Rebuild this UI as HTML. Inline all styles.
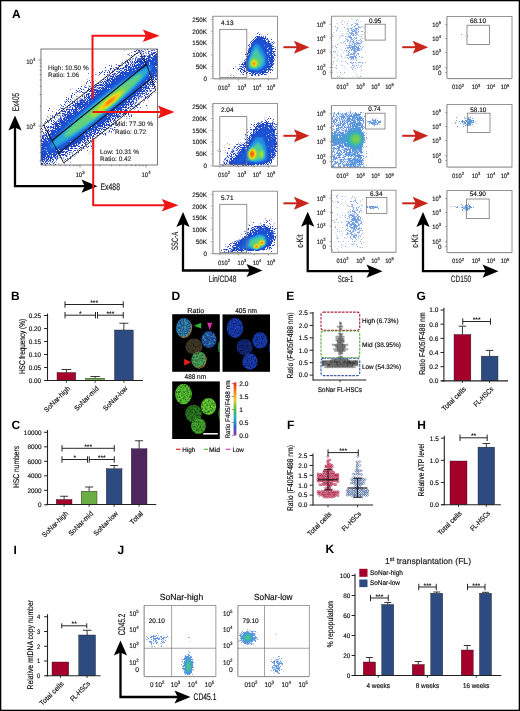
<!DOCTYPE html><html><head><meta charset="utf-8"><style>html,body{margin:0;padding:0;background:#fff;}svg{display:block;will-change:transform;}text{font-family:"Liberation Sans",sans-serif;text-rendering:geometricPrecision;}</style></head><body><svg width="520" height="711" viewBox="0 0 520 711" font-family="Liberation Sans, sans-serif"><defs><filter id="jet1" x="-20%" y="-20%" width="140%" height="140%" color-interpolation-filters="sRGB"><feGaussianBlur in="SourceGraphic" stdDeviation="1.2" result="bl"/><feColorMatrix in="bl" type="matrix" values="0 0 0 1 0 0 0 0 1 0 0 0 0 1 0 0 0 0 0 1" result="d"/><feComponentTransfer in="d" result="col"><feFuncR type="table" tableValues="0.16 0.14 0.12 0.11 0.14 0.3 0.55 0.88 1 1 0.96"/><feFuncG type="table" tableValues="0.26 0.25 0.26 0.34 0.62 0.8 0.85 0.88 0.66 0.36 0.1"/><feFuncB type="table" tableValues="0.76 0.76 0.77 0.84 0.9 0.6 0.28 0.12 0.06 0.03 0"/></feComponentTransfer><feTurbulence type="fractalNoise" baseFrequency="0.95" numOctaves="1" seed="2" result="n"/><feColorMatrix in="n" type="matrix" values="1 0 0 0 0 1 0 0 0 0 1 0 0 0 0 0 0 0 0 1" result="ng"/><feComposite in="d" in2="ng" operator="arithmetic" k1="0" k2="25" k3="12" k4="-9.84" result="m"/><feColorMatrix in="m" type="matrix" values="0 0 0 0 0 0 0 0 0 0 0 0 0 0 0 1 0 0 0 0" result="ma"/><feComposite in="col" in2="ma" operator="in"/></filter><filter id="jet2" x="-20%" y="-20%" width="140%" height="140%" color-interpolation-filters="sRGB"><feGaussianBlur in="SourceGraphic" stdDeviation="1.8" result="bl"/><feColorMatrix in="bl" type="matrix" values="0 0 0 1 0 0 0 0 1 0 0 0 0 1 0 0 0 0 0 1" result="d"/><feComponentTransfer in="d" result="col"><feFuncR type="table" tableValues="0.16 0.14 0.12 0.11 0.14 0.3 0.55 0.88 1 1 0.96"/><feFuncG type="table" tableValues="0.26 0.25 0.26 0.34 0.62 0.8 0.85 0.88 0.66 0.36 0.1"/><feFuncB type="table" tableValues="0.76 0.76 0.77 0.84 0.9 0.6 0.28 0.12 0.06 0.03 0"/></feComponentTransfer><feTurbulence type="fractalNoise" baseFrequency="0.95" numOctaves="1" seed="2" result="n"/><feColorMatrix in="n" type="matrix" values="1 0 0 0 0 1 0 0 0 0 1 0 0 0 0 0 0 0 0 1" result="ng"/><feComposite in="d" in2="ng" operator="arithmetic" k1="0" k2="25" k3="12" k4="-9.84" result="m"/><feColorMatrix in="m" type="matrix" values="0 0 0 0 0 0 0 0 0 0 0 0 0 0 0 1 0 0 0 0" result="ma"/><feComposite in="col" in2="ma" operator="in"/></filter><filter id="jet3" x="-20%" y="-20%" width="140%" height="140%" color-interpolation-filters="sRGB"><feGaussianBlur in="SourceGraphic" stdDeviation="0.8" result="bl"/><feColorMatrix in="bl" type="matrix" values="0 0 0 1 0 0 0 0 1 0 0 0 0 1 0 0 0 0 0 1" result="d"/><feComponentTransfer in="d" result="col"><feFuncR type="table" tableValues="0.16 0.14 0.12 0.11 0.14 0.3 0.55 0.88 1 1 0.96"/><feFuncG type="table" tableValues="0.26 0.25 0.26 0.34 0.62 0.8 0.85 0.88 0.66 0.36 0.1"/><feFuncB type="table" tableValues="0.76 0.76 0.77 0.84 0.9 0.6 0.28 0.12 0.06 0.03 0"/></feComponentTransfer><feTurbulence type="fractalNoise" baseFrequency="0.95" numOctaves="1" seed="2" result="n"/><feColorMatrix in="n" type="matrix" values="1 0 0 0 0 1 0 0 0 0 1 0 0 0 0 0 0 0 0 1" result="ng"/><feComposite in="d" in2="ng" operator="arithmetic" k1="0" k2="25" k3="12" k4="-9.84" result="m"/><feColorMatrix in="m" type="matrix" values="0 0 0 0 0 0 0 0 0 0 0 0 0 0 0 1 0 0 0 0" result="ma"/><feComposite in="col" in2="ma" operator="in"/></filter><filter id="jetL" x="-20%" y="-20%" width="140%" height="140%" color-interpolation-filters="sRGB"><feGaussianBlur in="SourceGraphic" stdDeviation="2.2" result="bl"/><feColorMatrix in="bl" type="matrix" values="0 0 0 1 0 0 0 0 1 0 0 0 0 1 0 0 0 0 0 1" result="d"/><feComponentTransfer in="d" result="col"><feFuncR type="table" tableValues="0.5 0.46 0.38 0.28 0.22 0.35 0.5 0.8 1 1 0.98"/><feFuncG type="table" tableValues="0.64 0.62 0.58 0.62 0.7 0.78 0.82 0.88 0.7 0.4 0.12"/><feFuncB type="table" tableValues="0.9 0.9 0.88 0.84 0.72 0.45 0.3 0.15 0.08 0.04 0"/></feComponentTransfer><feTurbulence type="fractalNoise" baseFrequency="1.8" numOctaves="1" seed="5" result="n"/><feColorMatrix in="n" type="matrix" values="1 0 0 0 0 1 0 0 0 0 1 0 0 0 0 0 0 0 0 1" result="ng"/><feComposite in="d" in2="ng" operator="arithmetic" k1="0" k2="25" k3="12" k4="-9.84" result="m"/><feColorMatrix in="m" type="matrix" values="0 0 0 0 0 0 0 0 0 0 0 0 0 0 0 1 0 0 0 0" result="ma"/><feComposite in="col" in2="ma" operator="in"/></filter><filter id="jetL2" x="-20%" y="-20%" width="140%" height="140%" color-interpolation-filters="sRGB"><feGaussianBlur in="SourceGraphic" stdDeviation="1.0" result="bl"/><feColorMatrix in="bl" type="matrix" values="0 0 0 1 0 0 0 0 1 0 0 0 0 1 0 0 0 0 0 1" result="d"/><feComponentTransfer in="d" result="col"><feFuncR type="table" tableValues="0.5 0.46 0.38 0.28 0.22 0.35 0.5 0.8 1 1 0.98"/><feFuncG type="table" tableValues="0.64 0.62 0.58 0.62 0.7 0.78 0.82 0.88 0.7 0.4 0.12"/><feFuncB type="table" tableValues="0.9 0.9 0.88 0.84 0.72 0.45 0.3 0.15 0.08 0.04 0"/></feComponentTransfer><feTurbulence type="fractalNoise" baseFrequency="1.3" numOctaves="1" seed="6" result="n"/><feColorMatrix in="n" type="matrix" values="1 0 0 0 0 1 0 0 0 0 1 0 0 0 0 0 0 0 0 1" result="ng"/><feComposite in="d" in2="ng" operator="arithmetic" k1="0" k2="25" k3="12" k4="-9.84" result="m"/><feColorMatrix in="m" type="matrix" values="0 0 0 0 0 0 0 0 0 0 0 0 0 0 0 1 0 0 0 0" result="ma"/><feComposite in="col" in2="ma" operator="in"/></filter><filter id="jetLL" x="-20%" y="-20%" width="140%" height="140%" color-interpolation-filters="sRGB"><feGaussianBlur in="SourceGraphic" stdDeviation="2.2" result="bl"/><feColorMatrix in="bl" type="matrix" values="0 0 0 1 0 0 0 0 1 0 0 0 0 1 0 0 0 0 0 1" result="d"/><feComponentTransfer in="d" result="col"><feFuncR type="table" tableValues="0.58 0.55 0.45 0.32 0.25 0.35 0.5 0.8 1 1 0.98"/><feFuncG type="table" tableValues="0.7 0.68 0.62 0.62 0.68 0.76 0.82 0.88 0.7 0.4 0.12"/><feFuncB type="table" tableValues="0.92 0.92 0.88 0.82 0.7 0.45 0.3 0.15 0.08 0.04 0"/></feComponentTransfer><feTurbulence type="fractalNoise" baseFrequency="1.8" numOctaves="1" seed="8" result="n"/><feColorMatrix in="n" type="matrix" values="1 0 0 0 0 1 0 0 0 0 1 0 0 0 0 0 0 0 0 1" result="ng"/><feComposite in="d" in2="ng" operator="arithmetic" k1="0" k2="25" k3="12" k4="-9.84" result="m"/><feColorMatrix in="m" type="matrix" values="0 0 0 0 0 0 0 0 0 0 0 0 0 0 0 1 0 0 0 0" result="ma"/><feComposite in="col" in2="ma" operator="in"/></filter><clipPath id="c1"><rect x="41" y="49" width="116.5" height="116"/></clipPath><clipPath id="c2"><rect x="213" y="16.25" width="64.5" height="62.5"/></clipPath><clipPath id="c3"><rect x="213" y="103.5" width="64.5" height="62.5"/></clipPath><clipPath id="c4"><rect x="213" y="191.2" width="64.5" height="62.5"/></clipPath><clipPath id="c5"><rect x="331.5" y="16.2" width="64.5" height="62"/></clipPath><clipPath id="c6"><rect x="331.5" y="105.6" width="64.5" height="62"/></clipPath><clipPath id="c7"><rect x="331.5" y="105.6" width="64.5" height="62"/></clipPath><clipPath id="c8"><rect x="331.5" y="190.2" width="64.5" height="62"/></clipPath><clipPath id="c9"><rect x="331.5" y="190.2" width="64.5" height="62"/></clipPath><clipPath id="c10"><rect x="447" y="16.5" width="65" height="62"/></clipPath><clipPath id="c11"><rect x="447" y="104.5" width="65" height="62.5"/></clipPath><clipPath id="c12"><rect x="447" y="190.5" width="65" height="62"/></clipPath><filter id="cellg" x="-10%" y="-10%" width="120%" height="120%" color-interpolation-filters="sRGB"><feGaussianBlur in="SourceGraphic" stdDeviation="0.55" result="b"/><feTurbulence type="fractalNoise" baseFrequency="0.6" numOctaves="2" seed="9" result="n"/><feColorMatrix in="n" type="matrix" values="0 0 0 0 1 0 0 0 0 1 0 0 0 0 1 1.3 0 0 0 0.2" result="nm"/><feComposite in="b" in2="nm" operator="in"/></filter><filter id="mott" x="-10%" y="-10%" width="120%" height="120%" color-interpolation-filters="sRGB"><feTurbulence type="fractalNoise" baseFrequency="0.45" numOctaves="2" seed="4" result="n"/><feColorMatrix in="n" type="matrix" values="0 0 0 0 0.3 0 0 0 0 0.78 0 0 0 0 0.55 4 0 0 0 -1.9" result="nm"/><feComposite in="nm" in2="SourceGraphic" operator="in"/></filter><clipPath id="dimg1"><rect x="172.2" y="314.2" width="47.6" height="57.6"/></clipPath><clipPath id="dimg2"><rect x="222.5" y="314.4" width="47.5" height="57.4"/></clipPath><clipPath id="dimg3"><rect x="172.2" y="381.4" width="47.6" height="57.6"/></clipPath><radialGradient id="rimA" cx="0.42" cy="0.42" r="0.62"><stop offset="0.72" stop-color="#2f8fb0" stop-opacity="0"/><stop offset="0.9" stop-color="#d09020"/><stop offset="1" stop-color="#c02010"/></radialGradient><radialGradient id="rimD" cx="0.45" cy="0.45" r="0.62"><stop offset="0.7" stop-color="#70b030" stop-opacity="0"/><stop offset="0.88" stop-color="#d06020"/><stop offset="1" stop-color="#b01810"/></radialGradient><linearGradient id="cbar" x1="0" y1="0" x2="0" y2="1"><stop offset="0" stop-color="#e8201a"/><stop offset="0.18" stop-color="#f08a20"/><stop offset="0.33" stop-color="#e8d020"/><stop offset="0.5" stop-color="#50c040"/><stop offset="0.68" stop-color="#20b0c8"/><stop offset="0.84" stop-color="#3060c8"/><stop offset="1" stop-color="#a030a0"/></linearGradient><clipPath id="c13"><rect x="144.2" y="605.5" width="71.7" height="71"/></clipPath><clipPath id="c14"><rect x="144.2" y="605.5" width="71.7" height="71"/></clipPath><clipPath id="c15"><rect x="144.2" y="605.5" width="71.7" height="71"/></clipPath><clipPath id="c16"><rect x="238" y="605.5" width="71.25" height="71"/></clipPath><clipPath id="c17"><rect x="238" y="605.5" width="71.25" height="71"/></clipPath><clipPath id="c18"><rect x="238" y="605.5" width="71.25" height="71"/></clipPath></defs><rect width="520" height="711" fill="#fff"/><text x="12" y="18.1" font-size="12" fill="#000" font-weight="bold">A</text><g clip-path="url(#c1)"><g filter="url(#jet2)"><ellipse cx="99" cy="107" rx="108" ry="36" fill="#fff" fill-opacity="0.05" transform="rotate(-38.8 99 107)"/><ellipse cx="99" cy="107" rx="100" ry="28" fill="#fff" fill-opacity="0.08" transform="rotate(-38.8 99 107)"/><ellipse cx="100" cy="107.5" rx="90" ry="20" fill="#fff" fill-opacity="0.08" transform="rotate(-38.8 100 107.5)"/><ellipse cx="100" cy="107.5" rx="80" ry="14.5" fill="#fff" fill-opacity="0.08" transform="rotate(-38.8 100 107.5)"/><ellipse cx="100" cy="108" rx="70" ry="10" fill="#fff" fill-opacity="0.08" transform="rotate(-38.8 100 108)"/><ellipse cx="101" cy="107" rx="64" ry="7" fill="#fff" fill-opacity="0.17" transform="rotate(-38.8 101 107)"/><ellipse cx="103" cy="105.5" rx="50" ry="5.2" fill="#fff" fill-opacity="0.2" transform="rotate(-38.8 103 105.5)"/><ellipse cx="108" cy="103" rx="22" ry="4" fill="#fff" fill-opacity="0.25" transform="rotate(-38.8 108 103)"/><ellipse cx="110" cy="101.5" rx="13" ry="3" fill="#fff" fill-opacity="0.33" transform="rotate(-38.8 110 101.5)"/><ellipse cx="110" cy="101.5" rx="6" ry="2" fill="#fff" fill-opacity="0.5" transform="rotate(-38.8 110 101.5)"/></g></g><rect x="41" y="49" width="116.5" height="116" fill="none" stroke="#555" stroke-width="0.8"/><path d="M41,160.51h-1.3M41,152.26h-1.3M41,145.87h-1.3M41,140.64h-1.3M41,136.22h-1.3M41,132.4h-1.3M41,129.02h-1.3M41,126h-2.5M41,106.13h-1.3M41,94.51h-1.3M41,86.26h-1.3M41,79.87h-1.3M41,74.64h-1.3M41,70.22h-1.3M41,66.4h-1.3M41,63.02h-1.3M41,60h-2.5" stroke="#444" stroke-width="0.6" fill="none"/><path d="M45.49,165v1.3M53.74,165v1.3M60.13,165v1.3M65.36,165v1.3M69.78,165v1.3M73.6,165v1.3M76.98,165v1.3M80,165v2.5M99.87,165v1.3M111.49,165v1.3M119.74,165v1.3M126.13,165v1.3M131.36,165v1.3M135.78,165v1.3M139.6,165v1.3M142.98,165v1.3M146,165v2.5" stroke="#444" stroke-width="0.6" fill="none"/><text transform="translate(35.3,63.6) scale(0.92,1)" font-size="6.6" fill="#1a1a1a" stroke="#1a1a1a" stroke-width="0.16" text-anchor="end">10<tspan dy="-2.77" font-size="4.62">4</tspan></text><text transform="translate(35.3,128.6) scale(0.92,1)" font-size="6.6" fill="#1a1a1a" stroke="#1a1a1a" stroke-width="0.16" text-anchor="end">10<tspan dy="-2.77" font-size="4.62">3</tspan></text><text transform="translate(80,176.8) scale(0.92,1)" font-size="6.6" fill="#1a1a1a" stroke="#1a1a1a" stroke-width="0.16" text-anchor="middle">10<tspan dy="-2.77" font-size="4.62">3</tspan></text><text transform="translate(146,176.8) scale(0.92,1)" font-size="6.6" fill="#1a1a1a" stroke="#1a1a1a" stroke-width="0.16" text-anchor="middle">10<tspan dy="-2.77" font-size="4.62">4</tspan></text><polygon points="43.5,124.8 139.4,51.35 146.5,64.25 155.7,90.3 63.8,162.9" fill="none" stroke="#111" stroke-width="0.9"/><line x1="51.9" y1="140.7" x2="146.5" y2="64.25" stroke="#111" stroke-width="1.1"/><line x1="58.1" y1="153.4" x2="151.25" y2="78.6" stroke="#111" stroke-width="1.1"/><text x="48.1" y="69.6" font-size="6.4" fill="#333" stroke="#333" stroke-width="0.16" textLength="40.6" lengthAdjust="spacingAndGlyphs">High: 10.50 %</text><text x="48.1" y="77" font-size="6.4" fill="#333" stroke="#333" stroke-width="0.16" textLength="31" lengthAdjust="spacingAndGlyphs">Ratio: 1.06</text><text x="115" y="125.6" font-size="6.4" fill="#333" stroke="#333" stroke-width="0.16" textLength="38" lengthAdjust="spacingAndGlyphs">Mid: 77.30 %</text><text x="115" y="133.5" font-size="6.4" fill="#333" stroke="#333" stroke-width="0.16" textLength="31.2" lengthAdjust="spacingAndGlyphs">Ratio: 0.72</text><text x="100" y="153.5" font-size="6.4" fill="#333" stroke="#333" stroke-width="0.16" textLength="39" lengthAdjust="spacingAndGlyphs">Low: 10.31 %</text><text x="100" y="161.3" font-size="6.4" fill="#333" stroke="#333" stroke-width="0.16" textLength="31.2" lengthAdjust="spacingAndGlyphs">Ratio: 0.42</text><path d="M15,126.5 L15,186.2 L86.5,186.2" fill="none" stroke="#000" stroke-width="2.3"/><polygon points="15,115.5 21.6,130.5 15,127.5 8.4,130.5" fill="#000"/><polygon points="97.5,186.2 81.5,179.6 84.7,186.2 81.5,192.8" fill="#000"/><text x="18.5" y="102" font-size="9.6" fill="#1a1a1a" text-anchor="middle" stroke="#1a1a1a" stroke-width="0.16" textLength="18.5" lengthAdjust="spacingAndGlyphs" transform="rotate(-90 18.5 102)">Ex405</text><text x="100.5" y="189.5" font-size="9.6" fill="#1a1a1a" stroke="#1a1a1a" stroke-width="0.16" textLength="19.5" lengthAdjust="spacingAndGlyphs">Ex488</text><path d="M92.5,98.5 V35.7 H146" fill="none" stroke="#f01414" stroke-width="2"/><polygon points="159.6,35.7 142.8,29.4 146,35.7 142.8,42" fill="#f01414"/><path d="M92.5,112 H161" fill="none" stroke="#f01414" stroke-width="2"/><polygon points="174.5,112 157.8,105.6 161,112 157.8,118.4" fill="#f01414"/><path d="M93.2,138.7 V205.2 H165" fill="none" stroke="#f01414" stroke-width="2"/><polygon points="178.5,205.2 161.8,198.9 165,205.2 161.8,211.5" fill="#f01414"/><g clip-path="url(#c2)"><g filter="url(#jet1)"><ellipse cx="238" cy="70" rx="14" ry="8" fill="#fff" fill-opacity="0.08" transform="rotate(-20 238 70)"/><polygon points="256,31 268,33 277,43 279,60 277,72 266,79 250,79 239,73 241,58 248,42" fill="#fff" fill-opacity="0.1"/><polygon points="257,35 266,37 273,45 275,58 273,68 265,75 252,75 246,69 246,58 250,45" fill="#fff" fill-opacity="0.13"/><polygon points="257,38 265,41 271,48 272,60 269,69 262,73 252,73 248,67 248,57 251,46" fill="#fff" fill-opacity="0.08"/><polygon points="255,43 260,45 266,56 266,65 259,71 249,70 248,62 251,50" fill="#fff" fill-opacity="0.14"/><polygon points="256.5,47 259,52 264,60 262,66 255,69 249,67 249,60 253,52" fill="#fff" fill-opacity="0.19"/><ellipse cx="254.5" cy="63.2" rx="4" ry="4.6" fill="#fff" fill-opacity="0.24"/><ellipse cx="254" cy="63.5" rx="2.6" ry="3" fill="#fff" fill-opacity="0.37"/><ellipse cx="254" cy="63.6" rx="1.3" ry="1.6" fill="#fff" fill-opacity="0.58"/></g></g><rect x="213" y="16.25" width="64.5" height="62.5" fill="none" stroke="#8a8a8a" stroke-width="0.9"/><path d="M213,78.45h-2.2M213,76.09h-1M213,73.73h-1M213,71.37h-1M213,69.01h-1M213,66.65h-2.2M213,64.29h-1M213,61.93h-1M213,59.57h-1M213,57.21h-1M213,54.85h-2.2M213,52.49h-1M213,50.13h-1M213,47.77h-1M213,45.41h-1M213,43.05h-2.2M213,40.69h-1M213,38.33h-1M213,35.97h-1M213,33.61h-1M213,31.25h-2.2M213,28.89h-1M213,26.53h-1M213,24.17h-1M213,21.81h-1M213,19.45h-2.2M213,17.09h-1" stroke="#666" stroke-width="0.5"/><text x="206.9" y="80.75" font-size="6.3" fill="#1a1a1a" text-anchor="end" stroke="#1a1a1a" stroke-width="0.16">0</text><text x="206.9" y="68.95" font-size="6.3" fill="#1a1a1a" text-anchor="end" stroke="#1a1a1a" stroke-width="0.16">50K</text><text x="206.9" y="57.15" font-size="6.3" fill="#1a1a1a" text-anchor="end" stroke="#1a1a1a" stroke-width="0.16">100K</text><text x="206.9" y="45.35" font-size="6.3" fill="#1a1a1a" text-anchor="end" stroke="#1a1a1a" stroke-width="0.16">150K</text><text x="206.9" y="33.55" font-size="6.3" fill="#1a1a1a" text-anchor="end" stroke="#1a1a1a" stroke-width="0.16">200K</text><text x="206.9" y="21.75" font-size="6.3" fill="#1a1a1a" text-anchor="end" stroke="#1a1a1a" stroke-width="0.16">250K</text><text transform="translate(224,89.55) scale(0.92,1)" font-size="6.3" fill="#1a1a1a" stroke="#1a1a1a" stroke-width="0.16" text-anchor="middle">010<tspan dy="-2.65" font-size="4.41">2</tspan></text><text transform="translate(241.8,89.55) scale(0.92,1)" font-size="6.3" fill="#1a1a1a" stroke="#1a1a1a" stroke-width="0.16" text-anchor="middle">10<tspan dy="-2.65" font-size="4.41">3</tspan></text><text transform="translate(257,89.55) scale(0.92,1)" font-size="6.3" fill="#1a1a1a" stroke="#1a1a1a" stroke-width="0.16" text-anchor="middle">10<tspan dy="-2.65" font-size="4.41">4</tspan></text><text transform="translate(271,89.55) scale(0.92,1)" font-size="6.3" fill="#1a1a1a" stroke="#1a1a1a" stroke-width="0.16" text-anchor="middle">10<tspan dy="-2.65" font-size="4.41">5</tspan></text><path d="M220,78.75v1.8M238.5,78.75v1.8M254,78.75v1.8M268.5,78.75v1.8M215,78.75v0.9M217,78.75v0.9M219,78.75v0.9M221,78.75v0.9M223,78.75v0.9M225,78.75v0.9M227,78.75v0.9M229,78.75v0.9M231,78.75v0.9M233,78.75v0.9M235,78.75v0.9M237,78.75v0.9M239,78.75v0.9M241,78.75v0.9M243,78.75v0.9M245,78.75v0.9M247,78.75v0.9M249,78.75v0.9M251,78.75v0.9M253,78.75v0.9M255,78.75v0.9M257,78.75v0.9M259,78.75v0.9M261,78.75v0.9M263,78.75v0.9M265,78.75v0.9M267,78.75v0.9M269,78.75v0.9M271,78.75v0.9M273,78.75v0.9M275,78.75v0.9" stroke="#666" stroke-width="0.5"/><rect x="219.8" y="29.35" width="27" height="48.2" fill="none" stroke="#777" stroke-width="0.8"/><text x="221" y="24.75" font-size="6.6" stroke="#222" stroke-width="0.16" textLength="12.5" lengthAdjust="spacingAndGlyphs">4.13</text><g clip-path="url(#c3)"><g filter="url(#jet1)"><ellipse cx="230" cy="152" rx="16" ry="13" fill="#fff" fill-opacity="0.07"/><polygon points="218,167 232,150 246,130 255,118 268,115 279,119 279,162 272,168 240,168" fill="#fff" fill-opacity="0.1"/><polygon points="229,165 240,152 250,135 257,123 266,121 275,124 277,140 276,155 270,164 250,166" fill="#fff" fill-opacity="0.13"/><polygon points="236,164 245,152 252,138 258,127 266,125 273,128 275,142 274,155 268,163 252,165" fill="#fff" fill-opacity="0.08"/><polygon points="246,161 250,145 256,137 263,137 267,148 267,160 258,163" fill="#fff" fill-opacity="0.14"/><polygon points="249,159 252,148 257,142 262,145 264,152 263,159 256,161" fill="#fff" fill-opacity="0.19"/><ellipse cx="252.6" cy="154" rx="5" ry="6.5" fill="#fff" fill-opacity="0.24"/><ellipse cx="261.7" cy="154.5" rx="2.4" ry="4" fill="#fff" fill-opacity="0.3"/><ellipse cx="252" cy="154" rx="3.6" ry="4.8" fill="#fff" fill-opacity="0.42"/><ellipse cx="251.9" cy="154" rx="2.2" ry="3.2" fill="#fff" fill-opacity="0.64"/></g></g><rect x="213" y="103.5" width="64.5" height="62.5" fill="none" stroke="#8a8a8a" stroke-width="0.9"/><path d="M213,165.7h-2.2M213,163.34h-1M213,160.98h-1M213,158.62h-1M213,156.26h-1M213,153.9h-2.2M213,151.54h-1M213,149.18h-1M213,146.82h-1M213,144.46h-1M213,142.1h-2.2M213,139.74h-1M213,137.38h-1M213,135.02h-1M213,132.66h-1M213,130.3h-2.2M213,127.94h-1M213,125.58h-1M213,123.22h-1M213,120.86h-1M213,118.5h-2.2M213,116.14h-1M213,113.78h-1M213,111.42h-1M213,109.06h-1M213,106.7h-2.2M213,104.34h-1" stroke="#666" stroke-width="0.5"/><text x="206.9" y="168" font-size="6.3" fill="#1a1a1a" text-anchor="end" stroke="#1a1a1a" stroke-width="0.16">0</text><text x="206.9" y="156.2" font-size="6.3" fill="#1a1a1a" text-anchor="end" stroke="#1a1a1a" stroke-width="0.16">50K</text><text x="206.9" y="144.4" font-size="6.3" fill="#1a1a1a" text-anchor="end" stroke="#1a1a1a" stroke-width="0.16">100K</text><text x="206.9" y="132.6" font-size="6.3" fill="#1a1a1a" text-anchor="end" stroke="#1a1a1a" stroke-width="0.16">150K</text><text x="206.9" y="120.8" font-size="6.3" fill="#1a1a1a" text-anchor="end" stroke="#1a1a1a" stroke-width="0.16">200K</text><text x="206.9" y="109" font-size="6.3" fill="#1a1a1a" text-anchor="end" stroke="#1a1a1a" stroke-width="0.16">250K</text><text transform="translate(224,176.8) scale(0.92,1)" font-size="6.3" fill="#1a1a1a" stroke="#1a1a1a" stroke-width="0.16" text-anchor="middle">010<tspan dy="-2.65" font-size="4.41">2</tspan></text><text transform="translate(241.8,176.8) scale(0.92,1)" font-size="6.3" fill="#1a1a1a" stroke="#1a1a1a" stroke-width="0.16" text-anchor="middle">10<tspan dy="-2.65" font-size="4.41">3</tspan></text><text transform="translate(257,176.8) scale(0.92,1)" font-size="6.3" fill="#1a1a1a" stroke="#1a1a1a" stroke-width="0.16" text-anchor="middle">10<tspan dy="-2.65" font-size="4.41">4</tspan></text><text transform="translate(271,176.8) scale(0.92,1)" font-size="6.3" fill="#1a1a1a" stroke="#1a1a1a" stroke-width="0.16" text-anchor="middle">10<tspan dy="-2.65" font-size="4.41">5</tspan></text><path d="M220,166v1.8M238.5,166v1.8M254,166v1.8M268.5,166v1.8M215,166v0.9M217,166v0.9M219,166v0.9M221,166v0.9M223,166v0.9M225,166v0.9M227,166v0.9M229,166v0.9M231,166v0.9M233,166v0.9M235,166v0.9M237,166v0.9M239,166v0.9M241,166v0.9M243,166v0.9M245,166v0.9M247,166v0.9M249,166v0.9M251,166v0.9M253,166v0.9M255,166v0.9M257,166v0.9M259,166v0.9M261,166v0.9M263,166v0.9M265,166v0.9M267,166v0.9M269,166v0.9M271,166v0.9M273,166v0.9M275,166v0.9" stroke="#666" stroke-width="0.5"/><rect x="219.8" y="116.6" width="27" height="48.2" fill="none" stroke="#777" stroke-width="0.8"/><text x="221" y="112" font-size="6.6" stroke="#222" stroke-width="0.16" textLength="12.5" lengthAdjust="spacingAndGlyphs">2.04</text><g clip-path="url(#c4)"><g filter="url(#jet1)"><ellipse cx="236" cy="246" rx="18" ry="7" fill="#fff" fill-opacity="0.08" transform="rotate(-20 236 246)"/><polygon points="222,252 236,238 250,222 262,216 276,221 279,240 274,252 245,253" fill="#fff" fill-opacity="0.1"/><polygon points="232,250 242,240 252,228 262,224 272,228 276,238 270,249 250,251" fill="#fff" fill-opacity="0.13"/><polygon points="239,250 246,241 254,231 262,227 270,230 274,238 268,248 252,250" fill="#fff" fill-opacity="0.08"/><polygon points="247,248 250,238 258,234 265,235 267,242 263,249 252,250" fill="#fff" fill-opacity="0.14"/><polygon points="249,245 252,239 259,236 264,237 265,242 260,247 252,248" fill="#fff" fill-opacity="0.19"/><ellipse cx="259" cy="244.5" rx="5.5" ry="3.2" fill="#fff" fill-opacity="0.2" transform="rotate(-30 259 244.5)"/><ellipse cx="262.3" cy="242.7" rx="2.4" ry="2.2" fill="#fff" fill-opacity="0.75"/><ellipse cx="256.5" cy="247" rx="2.6" ry="2" fill="#fff" fill-opacity="0.8"/></g></g><rect x="213" y="191.2" width="64.5" height="62.5" fill="none" stroke="#8a8a8a" stroke-width="0.9"/><path d="M213,253.4h-2.2M213,251.04h-1M213,248.68h-1M213,246.32h-1M213,243.96h-1M213,241.6h-2.2M213,239.24h-1M213,236.88h-1M213,234.52h-1M213,232.16h-1M213,229.8h-2.2M213,227.44h-1M213,225.08h-1M213,222.72h-1M213,220.36h-1M213,218h-2.2M213,215.64h-1M213,213.28h-1M213,210.92h-1M213,208.56h-1M213,206.2h-2.2M213,203.84h-1M213,201.48h-1M213,199.12h-1M213,196.76h-1M213,194.4h-2.2M213,192.04h-1" stroke="#666" stroke-width="0.5"/><text x="206.9" y="255.7" font-size="6.3" fill="#1a1a1a" text-anchor="end" stroke="#1a1a1a" stroke-width="0.16">0</text><text x="206.9" y="243.9" font-size="6.3" fill="#1a1a1a" text-anchor="end" stroke="#1a1a1a" stroke-width="0.16">50K</text><text x="206.9" y="232.1" font-size="6.3" fill="#1a1a1a" text-anchor="end" stroke="#1a1a1a" stroke-width="0.16">100K</text><text x="206.9" y="220.3" font-size="6.3" fill="#1a1a1a" text-anchor="end" stroke="#1a1a1a" stroke-width="0.16">150K</text><text x="206.9" y="208.5" font-size="6.3" fill="#1a1a1a" text-anchor="end" stroke="#1a1a1a" stroke-width="0.16">200K</text><text x="206.9" y="196.7" font-size="6.3" fill="#1a1a1a" text-anchor="end" stroke="#1a1a1a" stroke-width="0.16">250K</text><text transform="translate(224,264.5) scale(0.92,1)" font-size="6.3" fill="#1a1a1a" stroke="#1a1a1a" stroke-width="0.16" text-anchor="middle">010<tspan dy="-2.65" font-size="4.41">2</tspan></text><text transform="translate(241.8,264.5) scale(0.92,1)" font-size="6.3" fill="#1a1a1a" stroke="#1a1a1a" stroke-width="0.16" text-anchor="middle">10<tspan dy="-2.65" font-size="4.41">3</tspan></text><text transform="translate(257,264.5) scale(0.92,1)" font-size="6.3" fill="#1a1a1a" stroke="#1a1a1a" stroke-width="0.16" text-anchor="middle">10<tspan dy="-2.65" font-size="4.41">4</tspan></text><text transform="translate(271,264.5) scale(0.92,1)" font-size="6.3" fill="#1a1a1a" stroke="#1a1a1a" stroke-width="0.16" text-anchor="middle">10<tspan dy="-2.65" font-size="4.41">5</tspan></text><path d="M220,253.7v1.8M238.5,253.7v1.8M254,253.7v1.8M268.5,253.7v1.8M215,253.7v0.9M217,253.7v0.9M219,253.7v0.9M221,253.7v0.9M223,253.7v0.9M225,253.7v0.9M227,253.7v0.9M229,253.7v0.9M231,253.7v0.9M233,253.7v0.9M235,253.7v0.9M237,253.7v0.9M239,253.7v0.9M241,253.7v0.9M243,253.7v0.9M245,253.7v0.9M247,253.7v0.9M249,253.7v0.9M251,253.7v0.9M253,253.7v0.9M255,253.7v0.9M257,253.7v0.9M259,253.7v0.9M261,253.7v0.9M263,253.7v0.9M265,253.7v0.9M267,253.7v0.9M269,253.7v0.9M271,253.7v0.9M273,253.7v0.9M275,253.7v0.9" stroke="#666" stroke-width="0.5"/><rect x="219.8" y="204.3" width="27" height="48.2" fill="none" stroke="#777" stroke-width="0.8"/><text x="221" y="199.7" font-size="6.6" stroke="#222" stroke-width="0.16" textLength="12.5" lengthAdjust="spacingAndGlyphs">5.71</text><g clip-path="url(#c5)"><g filter="url(#jetLL)"><rect x="329" y="17" width="37" height="64" rx="6" fill="#fff" fill-opacity="0.09"/><ellipse cx="355" cy="45" rx="7" ry="26" fill="#fff" fill-opacity="0.05"/><ellipse cx="352" cy="47" rx="9" ry="14" fill="#fff" fill-opacity="0.05"/><ellipse cx="356" cy="48" rx="4" ry="4" fill="#fff" fill-opacity="0.06"/><ellipse cx="354" cy="29" rx="6" ry="5" fill="#fff" fill-opacity="0.05"/></g></g><rect x="331.5" y="16.2" width="64.5" height="62" fill="none" stroke="#8a8a8a" stroke-width="0.9"/><text transform="translate(325.4,26.55) scale(0.92,1)" font-size="6.3" fill="#1a1a1a" stroke="#1a1a1a" stroke-width="0.16" text-anchor="end">10<tspan dy="-2.65" font-size="4.41">5</tspan></text><text transform="translate(325.4,40.55) scale(0.92,1)" font-size="6.3" fill="#1a1a1a" stroke="#1a1a1a" stroke-width="0.16" text-anchor="end">10<tspan dy="-2.65" font-size="4.41">4</tspan></text><text transform="translate(325.4,54.35) scale(0.92,1)" font-size="6.3" fill="#1a1a1a" stroke="#1a1a1a" stroke-width="0.16" text-anchor="end">10<tspan dy="-2.65" font-size="4.41">3</tspan></text><text transform="translate(325.4,69.85) scale(0.92,1)" font-size="6.3" fill="#1a1a1a" stroke="#1a1a1a" stroke-width="0.16" text-anchor="end">10<tspan dy="-2.65" font-size="4.41">2</tspan></text><text x="326.1" y="74.55" font-size="6.3" fill="#1a1a1a" text-anchor="end" stroke="#1a1a1a" stroke-width="0.16">0</text><text transform="translate(342.5,89) scale(0.92,1)" font-size="6.3" fill="#1a1a1a" stroke="#1a1a1a" stroke-width="0.16" text-anchor="middle">010<tspan dy="-2.65" font-size="4.41">2</tspan></text><text transform="translate(360.5,89) scale(0.92,1)" font-size="6.3" fill="#1a1a1a" stroke="#1a1a1a" stroke-width="0.16" text-anchor="middle">10<tspan dy="-2.65" font-size="4.41">3</tspan></text><text transform="translate(375.5,89) scale(0.92,1)" font-size="6.3" fill="#1a1a1a" stroke="#1a1a1a" stroke-width="0.16" text-anchor="middle">10<tspan dy="-2.65" font-size="4.41">4</tspan></text><text transform="translate(389.5,89) scale(0.92,1)" font-size="6.3" fill="#1a1a1a" stroke="#1a1a1a" stroke-width="0.16" text-anchor="middle">10<tspan dy="-2.65" font-size="4.41">5</tspan></text><path d="M331.5,24.3h-2M331.5,38.2h-2M331.5,52.2h-2M331.5,67.5h-2M331.5,72.2h-2M331.5,18h-0.9M331.5,20h-0.9M331.5,22h-0.9M331.5,24h-0.9M331.5,26h-0.9M331.5,28h-0.9M331.5,30h-0.9M331.5,32h-0.9M331.5,34h-0.9M331.5,36h-0.9M331.5,38h-0.9M331.5,40h-0.9M331.5,42h-0.9M331.5,44h-0.9M331.5,46h-0.9M331.5,48h-0.9M331.5,50h-0.9M331.5,52h-0.9M331.5,54h-0.9M331.5,56h-0.9M331.5,58h-0.9M331.5,60h-0.9M331.5,62h-0.9M331.5,64h-0.9M331.5,66h-0.9M331.5,68h-0.9M331.5,70h-0.9M331.5,72h-0.9M331.5,74h-0.9M331.5,76h-0.9M333,78.2v0.9M335,78.2v0.9M337,78.2v0.9M339,78.2v0.9M341,78.2v0.9M343,78.2v0.9M345,78.2v0.9M347,78.2v0.9M349,78.2v0.9M351,78.2v0.9M353,78.2v0.9M355,78.2v0.9M357,78.2v0.9M359,78.2v0.9M361,78.2v0.9M363,78.2v0.9M365,78.2v0.9M367,78.2v0.9M369,78.2v0.9M371,78.2v0.9M373,78.2v0.9M375,78.2v0.9M377,78.2v0.9M379,78.2v0.9M381,78.2v0.9M383,78.2v0.9M385,78.2v0.9M387,78.2v0.9M389,78.2v0.9M391,78.2v0.9M393,78.2v0.9M395,78.2v0.9" stroke="#666" stroke-width="0.5"/><rect x="365.1" y="24.2" width="20.1" height="15.9" fill="none" stroke="#777" stroke-width="0.8"/><text x="375.1" y="22.8" font-size="6.6" text-anchor="middle" stroke="#222" stroke-width="0.16" textLength="12.4" lengthAdjust="spacingAndGlyphs">0.95</text><g clip-path="url(#c6)"><g filter="url(#jetL)"><rect x="329" y="111" width="35" height="60" rx="4" fill="#fff" fill-opacity="0.18"/><rect x="329" y="134" width="35" height="10" rx="3" fill="#fff" fill-opacity="0.1"/><rect x="349" y="113" width="13" height="56" rx="3" fill="#fff" fill-opacity="0.06"/><rect x="362" y="112" width="14" height="56" rx="4" fill="#fff" fill-opacity="0.04"/><ellipse cx="355" cy="139" rx="9" ry="10" fill="#fff" fill-opacity="0.14"/><ellipse cx="356" cy="139" rx="6" ry="6" fill="#fff" fill-opacity="0.18"/><ellipse cx="356" cy="139" rx="3.6" ry="3.6" fill="#fff" fill-opacity="0.25"/></g></g><g clip-path="url(#c7)"><g filter="url(#jetL2)"><ellipse cx="375" cy="122" rx="9" ry="4" fill="#fff" fill-opacity="0.16" transform="rotate(-5 375 122)"/><ellipse cx="374" cy="122" rx="5" ry="2.5" fill="#fff" fill-opacity="0.1"/></g></g><rect x="331.5" y="105.6" width="64.5" height="62" fill="none" stroke="#8a8a8a" stroke-width="0.9"/><text transform="translate(325.4,115.95) scale(0.92,1)" font-size="6.3" fill="#1a1a1a" stroke="#1a1a1a" stroke-width="0.16" text-anchor="end">10<tspan dy="-2.65" font-size="4.41">5</tspan></text><text transform="translate(325.4,129.95) scale(0.92,1)" font-size="6.3" fill="#1a1a1a" stroke="#1a1a1a" stroke-width="0.16" text-anchor="end">10<tspan dy="-2.65" font-size="4.41">4</tspan></text><text transform="translate(325.4,143.75) scale(0.92,1)" font-size="6.3" fill="#1a1a1a" stroke="#1a1a1a" stroke-width="0.16" text-anchor="end">10<tspan dy="-2.65" font-size="4.41">3</tspan></text><text transform="translate(325.4,159.25) scale(0.92,1)" font-size="6.3" fill="#1a1a1a" stroke="#1a1a1a" stroke-width="0.16" text-anchor="end">10<tspan dy="-2.65" font-size="4.41">2</tspan></text><text x="326.1" y="163.95" font-size="6.3" fill="#1a1a1a" text-anchor="end" stroke="#1a1a1a" stroke-width="0.16">0</text><text transform="translate(342.5,178.4) scale(0.92,1)" font-size="6.3" fill="#1a1a1a" stroke="#1a1a1a" stroke-width="0.16" text-anchor="middle">010<tspan dy="-2.65" font-size="4.41">2</tspan></text><text transform="translate(360.5,178.4) scale(0.92,1)" font-size="6.3" fill="#1a1a1a" stroke="#1a1a1a" stroke-width="0.16" text-anchor="middle">10<tspan dy="-2.65" font-size="4.41">3</tspan></text><text transform="translate(375.5,178.4) scale(0.92,1)" font-size="6.3" fill="#1a1a1a" stroke="#1a1a1a" stroke-width="0.16" text-anchor="middle">10<tspan dy="-2.65" font-size="4.41">4</tspan></text><text transform="translate(389.5,178.4) scale(0.92,1)" font-size="6.3" fill="#1a1a1a" stroke="#1a1a1a" stroke-width="0.16" text-anchor="middle">10<tspan dy="-2.65" font-size="4.41">5</tspan></text><path d="M331.5,113.7h-2M331.5,127.6h-2M331.5,141.6h-2M331.5,156.9h-2M331.5,161.6h-2M331.5,107h-0.9M331.5,109h-0.9M331.5,111h-0.9M331.5,113h-0.9M331.5,115h-0.9M331.5,117h-0.9M331.5,119h-0.9M331.5,121h-0.9M331.5,123h-0.9M331.5,125h-0.9M331.5,127h-0.9M331.5,129h-0.9M331.5,131h-0.9M331.5,133h-0.9M331.5,135h-0.9M331.5,137h-0.9M331.5,139h-0.9M331.5,141h-0.9M331.5,143h-0.9M331.5,145h-0.9M331.5,147h-0.9M331.5,149h-0.9M331.5,151h-0.9M331.5,153h-0.9M331.5,155h-0.9M331.5,157h-0.9M331.5,159h-0.9M331.5,161h-0.9M331.5,163h-0.9M331.5,165h-0.9M333,167.6v0.9M335,167.6v0.9M337,167.6v0.9M339,167.6v0.9M341,167.6v0.9M343,167.6v0.9M345,167.6v0.9M347,167.6v0.9M349,167.6v0.9M351,167.6v0.9M353,167.6v0.9M355,167.6v0.9M357,167.6v0.9M359,167.6v0.9M361,167.6v0.9M363,167.6v0.9M365,167.6v0.9M367,167.6v0.9M369,167.6v0.9M371,167.6v0.9M373,167.6v0.9M375,167.6v0.9M377,167.6v0.9M379,167.6v0.9M381,167.6v0.9M383,167.6v0.9M385,167.6v0.9M387,167.6v0.9M389,167.6v0.9M391,167.6v0.9M393,167.6v0.9M395,167.6v0.9" stroke="#666" stroke-width="0.5"/><rect x="365.4" y="113.2" width="19.6" height="15.8" fill="none" stroke="#777" stroke-width="0.8"/><text x="374.4" y="111" font-size="6.6" text-anchor="middle" stroke="#222" stroke-width="0.16" textLength="12.4" lengthAdjust="spacingAndGlyphs">0.74</text><g clip-path="url(#c8)"><g filter="url(#jetLL)"><rect x="329" y="193" width="37" height="62" rx="6" fill="#fff" fill-opacity="0.09"/><ellipse cx="355" cy="222" rx="7" ry="26" fill="#fff" fill-opacity="0.05"/><ellipse cx="354" cy="224" rx="8" ry="13" fill="#fff" fill-opacity="0.06"/><ellipse cx="355" cy="222" rx="4" ry="6" fill="#fff" fill-opacity="0.06"/></g></g><g clip-path="url(#c9)"><g filter="url(#jetL2)"><ellipse cx="373" cy="207" rx="9" ry="2.6" fill="#fff" fill-opacity="0.17"/><ellipse cx="372" cy="207" rx="4" ry="1.8" fill="#fff" fill-opacity="0.06"/></g></g><rect x="331.5" y="190.2" width="64.5" height="62" fill="none" stroke="#8a8a8a" stroke-width="0.9"/><text transform="translate(325.4,200.55) scale(0.92,1)" font-size="6.3" fill="#1a1a1a" stroke="#1a1a1a" stroke-width="0.16" text-anchor="end">10<tspan dy="-2.65" font-size="4.41">5</tspan></text><text transform="translate(325.4,214.55) scale(0.92,1)" font-size="6.3" fill="#1a1a1a" stroke="#1a1a1a" stroke-width="0.16" text-anchor="end">10<tspan dy="-2.65" font-size="4.41">4</tspan></text><text transform="translate(325.4,228.35) scale(0.92,1)" font-size="6.3" fill="#1a1a1a" stroke="#1a1a1a" stroke-width="0.16" text-anchor="end">10<tspan dy="-2.65" font-size="4.41">3</tspan></text><text transform="translate(325.4,243.85) scale(0.92,1)" font-size="6.3" fill="#1a1a1a" stroke="#1a1a1a" stroke-width="0.16" text-anchor="end">10<tspan dy="-2.65" font-size="4.41">2</tspan></text><text x="326.1" y="248.55" font-size="6.3" fill="#1a1a1a" text-anchor="end" stroke="#1a1a1a" stroke-width="0.16">0</text><text transform="translate(342.5,263) scale(0.92,1)" font-size="6.3" fill="#1a1a1a" stroke="#1a1a1a" stroke-width="0.16" text-anchor="middle">010<tspan dy="-2.65" font-size="4.41">2</tspan></text><text transform="translate(360.5,263) scale(0.92,1)" font-size="6.3" fill="#1a1a1a" stroke="#1a1a1a" stroke-width="0.16" text-anchor="middle">10<tspan dy="-2.65" font-size="4.41">3</tspan></text><text transform="translate(375.5,263) scale(0.92,1)" font-size="6.3" fill="#1a1a1a" stroke="#1a1a1a" stroke-width="0.16" text-anchor="middle">10<tspan dy="-2.65" font-size="4.41">4</tspan></text><text transform="translate(389.5,263) scale(0.92,1)" font-size="6.3" fill="#1a1a1a" stroke="#1a1a1a" stroke-width="0.16" text-anchor="middle">10<tspan dy="-2.65" font-size="4.41">5</tspan></text><path d="M331.5,198.3h-2M331.5,212.2h-2M331.5,226.2h-2M331.5,241.5h-2M331.5,246.2h-2M331.5,192h-0.9M331.5,194h-0.9M331.5,196h-0.9M331.5,198h-0.9M331.5,200h-0.9M331.5,202h-0.9M331.5,204h-0.9M331.5,206h-0.9M331.5,208h-0.9M331.5,210h-0.9M331.5,212h-0.9M331.5,214h-0.9M331.5,216h-0.9M331.5,218h-0.9M331.5,220h-0.9M331.5,222h-0.9M331.5,224h-0.9M331.5,226h-0.9M331.5,228h-0.9M331.5,230h-0.9M331.5,232h-0.9M331.5,234h-0.9M331.5,236h-0.9M331.5,238h-0.9M331.5,240h-0.9M331.5,242h-0.9M331.5,244h-0.9M331.5,246h-0.9M331.5,248h-0.9M331.5,250h-0.9M333,252.2v0.9M335,252.2v0.9M337,252.2v0.9M339,252.2v0.9M341,252.2v0.9M343,252.2v0.9M345,252.2v0.9M347,252.2v0.9M349,252.2v0.9M351,252.2v0.9M353,252.2v0.9M355,252.2v0.9M357,252.2v0.9M359,252.2v0.9M361,252.2v0.9M363,252.2v0.9M365,252.2v0.9M367,252.2v0.9M369,252.2v0.9M371,252.2v0.9M373,252.2v0.9M375,252.2v0.9M377,252.2v0.9M379,252.2v0.9M381,252.2v0.9M383,252.2v0.9M385,252.2v0.9M387,252.2v0.9M389,252.2v0.9M391,252.2v0.9M393,252.2v0.9M395,252.2v0.9" stroke="#666" stroke-width="0.5"/><rect x="366.5" y="197.4" width="20.4" height="16" fill="none" stroke="#777" stroke-width="0.8"/><text x="376.25" y="195.7" font-size="6.6" text-anchor="middle" stroke="#222" stroke-width="0.16" textLength="12.4" lengthAdjust="spacingAndGlyphs">6.34</text><g clip-path="url(#c10)"><g filter="url(#jetL2)"><ellipse cx="464" cy="36" rx="7" ry="4" fill="#fff" fill-opacity="0.09" transform="rotate(-10 464 36)"/></g></g><rect x="447" y="16.5" width="65" height="62" fill="none" stroke="#8a8a8a" stroke-width="0.9"/><text transform="translate(440.9,26.85) scale(0.92,1)" font-size="6.3" fill="#1a1a1a" stroke="#1a1a1a" stroke-width="0.16" text-anchor="end">10<tspan dy="-2.65" font-size="4.41">5</tspan></text><text transform="translate(440.9,40.85) scale(0.92,1)" font-size="6.3" fill="#1a1a1a" stroke="#1a1a1a" stroke-width="0.16" text-anchor="end">10<tspan dy="-2.65" font-size="4.41">4</tspan></text><text transform="translate(440.9,54.65) scale(0.92,1)" font-size="6.3" fill="#1a1a1a" stroke="#1a1a1a" stroke-width="0.16" text-anchor="end">10<tspan dy="-2.65" font-size="4.41">3</tspan></text><text transform="translate(440.9,70.15) scale(0.92,1)" font-size="6.3" fill="#1a1a1a" stroke="#1a1a1a" stroke-width="0.16" text-anchor="end">10<tspan dy="-2.65" font-size="4.41">2</tspan></text><text x="441.6" y="74.85" font-size="6.3" fill="#1a1a1a" text-anchor="end" stroke="#1a1a1a" stroke-width="0.16">0</text><text transform="translate(458,89.3) scale(0.92,1)" font-size="6.3" fill="#1a1a1a" stroke="#1a1a1a" stroke-width="0.16" text-anchor="middle">010<tspan dy="-2.65" font-size="4.41">2</tspan></text><text transform="translate(476,89.3) scale(0.92,1)" font-size="6.3" fill="#1a1a1a" stroke="#1a1a1a" stroke-width="0.16" text-anchor="middle">10<tspan dy="-2.65" font-size="4.41">3</tspan></text><text transform="translate(491,89.3) scale(0.92,1)" font-size="6.3" fill="#1a1a1a" stroke="#1a1a1a" stroke-width="0.16" text-anchor="middle">10<tspan dy="-2.65" font-size="4.41">4</tspan></text><text transform="translate(505,89.3) scale(0.92,1)" font-size="6.3" fill="#1a1a1a" stroke="#1a1a1a" stroke-width="0.16" text-anchor="middle">10<tspan dy="-2.65" font-size="4.41">5</tspan></text><path d="M447,24.6h-2M447,38.5h-2M447,52.5h-2M447,67.8h-2M447,72.5h-2M447,18h-0.9M447,20h-0.9M447,22h-0.9M447,24h-0.9M447,26h-0.9M447,28h-0.9M447,30h-0.9M447,32h-0.9M447,34h-0.9M447,36h-0.9M447,38h-0.9M447,40h-0.9M447,42h-0.9M447,44h-0.9M447,46h-0.9M447,48h-0.9M447,50h-0.9M447,52h-0.9M447,54h-0.9M447,56h-0.9M447,58h-0.9M447,60h-0.9M447,62h-0.9M447,64h-0.9M447,66h-0.9M447,68h-0.9M447,70h-0.9M447,72h-0.9M447,74h-0.9M447,76h-0.9M449,78.5v0.9M451,78.5v0.9M453,78.5v0.9M455,78.5v0.9M457,78.5v0.9M459,78.5v0.9M461,78.5v0.9M463,78.5v0.9M465,78.5v0.9M467,78.5v0.9M469,78.5v0.9M471,78.5v0.9M473,78.5v0.9M475,78.5v0.9M477,78.5v0.9M479,78.5v0.9M481,78.5v0.9M483,78.5v0.9M485,78.5v0.9M487,78.5v0.9M489,78.5v0.9M491,78.5v0.9M493,78.5v0.9M495,78.5v0.9M497,78.5v0.9M499,78.5v0.9M501,78.5v0.9M503,78.5v0.9M505,78.5v0.9M507,78.5v0.9M509,78.5v0.9M511,78.5v0.9" stroke="#666" stroke-width="0.5"/><rect x="467" y="25.25" width="22.5" height="19.25" fill="none" stroke="#777" stroke-width="0.8"/><text x="478" y="23" font-size="6.6" text-anchor="middle" stroke="#222" stroke-width="0.16" textLength="16.1" lengthAdjust="spacingAndGlyphs">68.10</text><g clip-path="url(#c11)"><g filter="url(#jetL)"><ellipse cx="462" cy="122.5" rx="14" ry="5.5" fill="#fff" fill-opacity="0.12"/><ellipse cx="468" cy="121.5" rx="7" ry="4" fill="#fff" fill-opacity="0.1"/><ellipse cx="470.5" cy="121" rx="3" ry="2.5" fill="#fff" fill-opacity="0.18"/><ellipse cx="471" cy="121" rx="1.4" ry="1.2" fill="#fff" fill-opacity="0.25"/></g></g><rect x="447" y="104.5" width="65" height="62.5" fill="none" stroke="#8a8a8a" stroke-width="0.9"/><text transform="translate(440.9,114.85) scale(0.92,1)" font-size="6.3" fill="#1a1a1a" stroke="#1a1a1a" stroke-width="0.16" text-anchor="end">10<tspan dy="-2.65" font-size="4.41">5</tspan></text><text transform="translate(440.9,128.85) scale(0.92,1)" font-size="6.3" fill="#1a1a1a" stroke="#1a1a1a" stroke-width="0.16" text-anchor="end">10<tspan dy="-2.65" font-size="4.41">4</tspan></text><text transform="translate(440.9,142.65) scale(0.92,1)" font-size="6.3" fill="#1a1a1a" stroke="#1a1a1a" stroke-width="0.16" text-anchor="end">10<tspan dy="-2.65" font-size="4.41">3</tspan></text><text transform="translate(440.9,158.15) scale(0.92,1)" font-size="6.3" fill="#1a1a1a" stroke="#1a1a1a" stroke-width="0.16" text-anchor="end">10<tspan dy="-2.65" font-size="4.41">2</tspan></text><text x="441.6" y="162.85" font-size="6.3" fill="#1a1a1a" text-anchor="end" stroke="#1a1a1a" stroke-width="0.16">0</text><text transform="translate(458,177.8) scale(0.92,1)" font-size="6.3" fill="#1a1a1a" stroke="#1a1a1a" stroke-width="0.16" text-anchor="middle">010<tspan dy="-2.65" font-size="4.41">2</tspan></text><text transform="translate(476,177.8) scale(0.92,1)" font-size="6.3" fill="#1a1a1a" stroke="#1a1a1a" stroke-width="0.16" text-anchor="middle">10<tspan dy="-2.65" font-size="4.41">3</tspan></text><text transform="translate(491,177.8) scale(0.92,1)" font-size="6.3" fill="#1a1a1a" stroke="#1a1a1a" stroke-width="0.16" text-anchor="middle">10<tspan dy="-2.65" font-size="4.41">4</tspan></text><text transform="translate(505,177.8) scale(0.92,1)" font-size="6.3" fill="#1a1a1a" stroke="#1a1a1a" stroke-width="0.16" text-anchor="middle">10<tspan dy="-2.65" font-size="4.41">5</tspan></text><path d="M447,112.6h-2M447,126.5h-2M447,140.5h-2M447,155.8h-2M447,160.5h-2M447,106h-0.9M447,108h-0.9M447,110h-0.9M447,112h-0.9M447,114h-0.9M447,116h-0.9M447,118h-0.9M447,120h-0.9M447,122h-0.9M447,124h-0.9M447,126h-0.9M447,128h-0.9M447,130h-0.9M447,132h-0.9M447,134h-0.9M447,136h-0.9M447,138h-0.9M447,140h-0.9M447,142h-0.9M447,144h-0.9M447,146h-0.9M447,148h-0.9M447,150h-0.9M447,152h-0.9M447,154h-0.9M447,156h-0.9M447,158h-0.9M447,160h-0.9M447,162h-0.9M447,164h-0.9M447,166h-0.9M449,167v0.9M451,167v0.9M453,167v0.9M455,167v0.9M457,167v0.9M459,167v0.9M461,167v0.9M463,167v0.9M465,167v0.9M467,167v0.9M469,167v0.9M471,167v0.9M473,167v0.9M475,167v0.9M477,167v0.9M479,167v0.9M481,167v0.9M483,167v0.9M485,167v0.9M487,167v0.9M489,167v0.9M491,167v0.9M493,167v0.9M495,167v0.9M497,167v0.9M499,167v0.9M501,167v0.9M503,167v0.9M505,167v0.9M507,167v0.9M509,167v0.9M511,167v0.9" stroke="#666" stroke-width="0.5"/><rect x="467.3" y="113.2" width="22.7" height="19.3" fill="none" stroke="#777" stroke-width="0.8"/><text x="478.35" y="111.5" font-size="6.6" text-anchor="middle" stroke="#222" stroke-width="0.16" textLength="16.1" lengthAdjust="spacingAndGlyphs">58.10</text><g clip-path="url(#c12)"><g filter="url(#jetL)"><ellipse cx="462" cy="207.2" rx="13" ry="4" fill="#fff" fill-opacity="0.12"/><ellipse cx="467" cy="207.2" rx="6" ry="3" fill="#fff" fill-opacity="0.1"/><ellipse cx="469" cy="207.2" rx="2.8" ry="2" fill="#fff" fill-opacity="0.18"/><ellipse cx="469" cy="207.2" rx="1.3" ry="1.1" fill="#fff" fill-opacity="0.25"/></g></g><rect x="447" y="190.5" width="65" height="62" fill="none" stroke="#8a8a8a" stroke-width="0.9"/><text transform="translate(440.9,200.85) scale(0.92,1)" font-size="6.3" fill="#1a1a1a" stroke="#1a1a1a" stroke-width="0.16" text-anchor="end">10<tspan dy="-2.65" font-size="4.41">5</tspan></text><text transform="translate(440.9,214.85) scale(0.92,1)" font-size="6.3" fill="#1a1a1a" stroke="#1a1a1a" stroke-width="0.16" text-anchor="end">10<tspan dy="-2.65" font-size="4.41">4</tspan></text><text transform="translate(440.9,228.65) scale(0.92,1)" font-size="6.3" fill="#1a1a1a" stroke="#1a1a1a" stroke-width="0.16" text-anchor="end">10<tspan dy="-2.65" font-size="4.41">3</tspan></text><text transform="translate(440.9,244.15) scale(0.92,1)" font-size="6.3" fill="#1a1a1a" stroke="#1a1a1a" stroke-width="0.16" text-anchor="end">10<tspan dy="-2.65" font-size="4.41">2</tspan></text><text x="441.6" y="248.85" font-size="6.3" fill="#1a1a1a" text-anchor="end" stroke="#1a1a1a" stroke-width="0.16">0</text><text transform="translate(458,263.3) scale(0.92,1)" font-size="6.3" fill="#1a1a1a" stroke="#1a1a1a" stroke-width="0.16" text-anchor="middle">010<tspan dy="-2.65" font-size="4.41">2</tspan></text><text transform="translate(476,263.3) scale(0.92,1)" font-size="6.3" fill="#1a1a1a" stroke="#1a1a1a" stroke-width="0.16" text-anchor="middle">10<tspan dy="-2.65" font-size="4.41">3</tspan></text><text transform="translate(491,263.3) scale(0.92,1)" font-size="6.3" fill="#1a1a1a" stroke="#1a1a1a" stroke-width="0.16" text-anchor="middle">10<tspan dy="-2.65" font-size="4.41">4</tspan></text><text transform="translate(505,263.3) scale(0.92,1)" font-size="6.3" fill="#1a1a1a" stroke="#1a1a1a" stroke-width="0.16" text-anchor="middle">10<tspan dy="-2.65" font-size="4.41">5</tspan></text><path d="M447,198.6h-2M447,212.5h-2M447,226.5h-2M447,241.8h-2M447,246.5h-2M447,192h-0.9M447,194h-0.9M447,196h-0.9M447,198h-0.9M447,200h-0.9M447,202h-0.9M447,204h-0.9M447,206h-0.9M447,208h-0.9M447,210h-0.9M447,212h-0.9M447,214h-0.9M447,216h-0.9M447,218h-0.9M447,220h-0.9M447,222h-0.9M447,224h-0.9M447,226h-0.9M447,228h-0.9M447,230h-0.9M447,232h-0.9M447,234h-0.9M447,236h-0.9M447,238h-0.9M447,240h-0.9M447,242h-0.9M447,244h-0.9M447,246h-0.9M447,248h-0.9M447,250h-0.9M449,252.5v0.9M451,252.5v0.9M453,252.5v0.9M455,252.5v0.9M457,252.5v0.9M459,252.5v0.9M461,252.5v0.9M463,252.5v0.9M465,252.5v0.9M467,252.5v0.9M469,252.5v0.9M471,252.5v0.9M473,252.5v0.9M475,252.5v0.9M477,252.5v0.9M479,252.5v0.9M481,252.5v0.9M483,252.5v0.9M485,252.5v0.9M487,252.5v0.9M489,252.5v0.9M491,252.5v0.9M493,252.5v0.9M495,252.5v0.9M497,252.5v0.9M499,252.5v0.9M501,252.5v0.9M503,252.5v0.9M505,252.5v0.9M507,252.5v0.9M509,252.5v0.9M511,252.5v0.9" stroke="#666" stroke-width="0.5"/><rect x="466.6" y="199" width="22.6" height="19.6" fill="none" stroke="#777" stroke-width="0.8"/><text x="477.85" y="195.7" font-size="6.6" text-anchor="middle" stroke="#222" stroke-width="0.16" textLength="16.1" lengthAdjust="spacingAndGlyphs">54.90</text><line x1="283.4" y1="47.2" x2="299.4" y2="47.2" stroke="#c8261c" stroke-width="2"/><polygon points="309.4,47.2 293.9,40.7 296.9,47.2 293.9,53.7" fill="#c8261c"/><line x1="402.2" y1="47.2" x2="418.2" y2="47.2" stroke="#c8261c" stroke-width="2"/><polygon points="428.2,47.2 412.7,40.7 415.7,47.2 412.7,53.7" fill="#c8261c"/><line x1="283.4" y1="135.8" x2="299.4" y2="135.8" stroke="#c8261c" stroke-width="2"/><polygon points="309.4,135.8 293.9,129.3 296.9,135.8 293.9,142.3" fill="#c8261c"/><line x1="402.2" y1="135.8" x2="418.2" y2="135.8" stroke="#c8261c" stroke-width="2"/><polygon points="428.2,135.8 412.7,129.3 415.7,135.8 412.7,142.3" fill="#c8261c"/><line x1="283.4" y1="203.3" x2="299.4" y2="203.3" stroke="#c8261c" stroke-width="2"/><polygon points="309.4,203.3 293.9,196.8 296.9,203.3 293.9,209.8" fill="#c8261c"/><line x1="402.2" y1="203.3" x2="418.2" y2="203.3" stroke="#c8261c" stroke-width="2"/><polygon points="428.2,203.3 412.7,196.8 415.7,203.3 412.7,209.8" fill="#c8261c"/><path d="M183,223 L183,270.5 L251.5,270.5" fill="none" stroke="#000" stroke-width="2.3"/><polygon points="183,212 189.6,227 183,224 176.4,227" fill="#000"/><polygon points="262.5,270.5 246.5,263.9 249.7,270.5 246.5,277.1" fill="#000"/><path d="M307.7,222.8 L307.7,271.2 L371.5,271.2" fill="none" stroke="#000" stroke-width="2.3"/><polygon points="307.7,211.8 314.3,226.8 307.7,223.8 301.1,226.8" fill="#000"/><polygon points="382.5,271.2 366.5,264.6 369.7,271.2 366.5,277.8" fill="#000"/><path d="M423,223 L423,271.2 L487.5,271.2" fill="none" stroke="#000" stroke-width="2.3"/><polygon points="423,212 429.6,227 423,224 416.4,227" fill="#000"/><polygon points="498.5,271.2 482.5,264.6 485.7,271.2 482.5,277.8" fill="#000"/><text x="177.8" y="240.9" font-size="9.2" fill="#1a1a1a" text-anchor="middle" stroke="#1a1a1a" stroke-width="0.16" textLength="18" lengthAdjust="spacingAndGlyphs" transform="rotate(-90 177.8 240.9)">SSC-A</text><text x="222.6" y="281.6" font-size="9.2" fill="#1a1a1a" text-anchor="middle" stroke="#1a1a1a" stroke-width="0.16" textLength="27.8" lengthAdjust="spacingAndGlyphs">Lin/CD48</text><text x="303" y="241.15" font-size="9.2" fill="#1a1a1a" text-anchor="middle" stroke="#1a1a1a" stroke-width="0.16" textLength="13.3" lengthAdjust="spacingAndGlyphs" transform="rotate(-90 303 241.15)">c-Kit</text><text x="345.5" y="281.8" font-size="9.2" fill="#1a1a1a" text-anchor="middle" stroke="#1a1a1a" stroke-width="0.16" textLength="15.7" lengthAdjust="spacingAndGlyphs">Sca-1</text><text x="418" y="241.15" font-size="9.2" fill="#1a1a1a" text-anchor="middle" stroke="#1a1a1a" stroke-width="0.16" textLength="13.3" lengthAdjust="spacingAndGlyphs" transform="rotate(-90 418 241.15)">c-Kit</text><text x="461" y="281.6" font-size="9.2" fill="#1a1a1a" text-anchor="middle" stroke="#1a1a1a" stroke-width="0.16" textLength="20.5" lengthAdjust="spacingAndGlyphs">CD150</text><text x="11" y="299.6" font-size="12" fill="#000" font-weight="bold">B</text><line x1="66.38" y1="372.5" x2="66.38" y2="369.5" stroke="#222" stroke-width="0.9"/><line x1="61.62" y1="369.5" x2="71.12" y2="369.5" stroke="#222" stroke-width="0.9"/><rect x="57" y="372.5" width="18.75" height="8" fill="#a5002b" stroke="#1a1a1a" stroke-width="0.4"/><line x1="95.12" y1="378.25" x2="95.12" y2="376.5" stroke="#222" stroke-width="0.9"/><line x1="90.38" y1="376.5" x2="99.88" y2="376.5" stroke="#222" stroke-width="0.9"/><rect x="85.75" y="378.25" width="18.75" height="2.25" fill="#6aae45" stroke="#1a1a1a" stroke-width="0.4"/><line x1="123.88" y1="330" x2="123.88" y2="323.25" stroke="#222" stroke-width="0.9"/><line x1="119.38" y1="323.25" x2="128.38" y2="323.25" stroke="#222" stroke-width="0.9"/><rect x="114.5" y="330" width="18.75" height="50.5" fill="#2d4b80" stroke="#1a1a1a" stroke-width="0.4"/><line x1="47.5" y1="313.5" x2="47.5" y2="381.1" stroke="#222" stroke-width="1.1"/><text x="41.1" y="317.88" font-size="6.6" text-anchor="end" stroke="#222" stroke-width="0.16" textLength="12.4" lengthAdjust="spacingAndGlyphs">0.25</text><text x="41.1" y="330.88" font-size="6.6" text-anchor="end" stroke="#222" stroke-width="0.16" textLength="12.4" lengthAdjust="spacingAndGlyphs">0.20</text><text x="41.1" y="343.88" font-size="6.6" text-anchor="end" stroke="#222" stroke-width="0.16" textLength="12.4" lengthAdjust="spacingAndGlyphs">0.15</text><text x="41.1" y="356.88" font-size="6.6" text-anchor="end" stroke="#222" stroke-width="0.16" textLength="12.4" lengthAdjust="spacingAndGlyphs">0.10</text><text x="41.1" y="369.88" font-size="6.6" text-anchor="end" stroke="#222" stroke-width="0.16" textLength="12.4" lengthAdjust="spacingAndGlyphs">0.05</text><text x="41.1" y="382.88" font-size="6.6" text-anchor="end" stroke="#222" stroke-width="0.16" textLength="12.4" lengthAdjust="spacingAndGlyphs">0.00</text><path d="M47.5,315.5h-3.4M47.5,328.5h-3.4M47.5,341.5h-3.4M47.5,354.5h-3.4M47.5,367.5h-3.4M47.5,380.5h-3.4" stroke="#222" stroke-width="1"/><line x1="45" y1="380.5" x2="143" y2="380.5" stroke="#222" stroke-width="1.1"/><line x1="66.4" y1="380.5" x2="66.4" y2="382.7" stroke="#222" stroke-width="0.9"/><line x1="95.1" y1="380.5" x2="95.1" y2="382.7" stroke="#222" stroke-width="0.9"/><line x1="123.9" y1="380.5" x2="123.9" y2="382.7" stroke="#222" stroke-width="0.9"/><path d="M65,301.3v6.4M65,304.5H123.25M123.25,301.3v6.4" stroke="#1a1a1a" stroke-width="0.95" fill="none"/><text x="94.12" y="305.1" font-size="6.8" fill="#111" text-anchor="middle" font-weight="bold">***</text><path d="M65,312v6.4M65,315.2H95.5M95.5,312v6.4" stroke="#1a1a1a" stroke-width="0.95" fill="none"/><text x="80.25" y="315.8" font-size="6.8" fill="#111" text-anchor="middle" font-weight="bold">*</text><path d="M97.5,312v6.4M97.5,315.2H123.25M123.25,312v6.4" stroke="#1a1a1a" stroke-width="0.95" fill="none"/><text x="110.38" y="315.8" font-size="6.8" fill="#111" text-anchor="middle" font-weight="bold">***</text><text x="24.6" y="346.5" font-size="8.3" text-anchor="middle" stroke="#222" stroke-width="0.16" textLength="55" lengthAdjust="spacingAndGlyphs" transform="rotate(-90 24.6 346.5)">HSC frequency (%)</text><text x="70.5" y="389" font-size="7" text-anchor="end" stroke="#222" stroke-width="0.16" textLength="33.5" lengthAdjust="spacingAndGlyphs" transform="rotate(-45 70.5 389)">SoNar-high</text><text x="99.3" y="389" font-size="7" text-anchor="end" stroke="#222" stroke-width="0.16" textLength="31.5" lengthAdjust="spacingAndGlyphs" transform="rotate(-45 99.3 389)">SoNar-mid</text><text x="128" y="389" font-size="7" text-anchor="end" stroke="#222" stroke-width="0.16" textLength="31.5" lengthAdjust="spacingAndGlyphs" transform="rotate(-45 128 389)">SoNar-low</text><text x="11.5" y="429.4" font-size="12" fill="#000" font-weight="bold">C</text><line x1="64.12" y1="499.5" x2="64.12" y2="496.25" stroke="#222" stroke-width="0.9"/><line x1="60.12" y1="496.25" x2="68.12" y2="496.25" stroke="#222" stroke-width="0.9"/><rect x="56.25" y="499.5" width="15.75" height="5" fill="#a5002b" stroke="#1a1a1a" stroke-width="0.4"/><line x1="89.12" y1="491.25" x2="89.12" y2="487" stroke="#222" stroke-width="0.9"/><line x1="85.12" y1="487" x2="93.12" y2="487" stroke="#222" stroke-width="0.9"/><rect x="81.25" y="491.25" width="15.75" height="13.25" fill="#6aae45" stroke="#1a1a1a" stroke-width="0.4"/><line x1="114.12" y1="468.75" x2="114.12" y2="465.5" stroke="#222" stroke-width="0.9"/><line x1="110.12" y1="465.5" x2="118.12" y2="465.5" stroke="#222" stroke-width="0.9"/><rect x="106.25" y="468.75" width="15.75" height="35.75" fill="#2d4b80" stroke="#1a1a1a" stroke-width="0.4"/><line x1="139.12" y1="448.75" x2="139.12" y2="440.75" stroke="#222" stroke-width="0.9"/><line x1="135.12" y1="440.75" x2="143.12" y2="440.75" stroke="#222" stroke-width="0.9"/><rect x="131.25" y="448.75" width="15.75" height="55.75" fill="#4f2660" stroke="#1a1a1a" stroke-width="0.4"/><line x1="47.5" y1="430" x2="47.5" y2="505.1" stroke="#222" stroke-width="1.1"/><text x="41.6" y="434.68" font-size="6.6" text-anchor="end" stroke="#222" stroke-width="0.16" textLength="17.75" lengthAdjust="spacingAndGlyphs">10000</text><text x="41.6" y="449.18" font-size="6.6" text-anchor="end" stroke="#222" stroke-width="0.16" textLength="14.2" lengthAdjust="spacingAndGlyphs">8000</text><text x="41.6" y="463.68" font-size="6.6" text-anchor="end" stroke="#222" stroke-width="0.16" textLength="14.2" lengthAdjust="spacingAndGlyphs">6000</text><text x="41.6" y="478.18" font-size="6.6" text-anchor="end" stroke="#222" stroke-width="0.16" textLength="14.2" lengthAdjust="spacingAndGlyphs">4000</text><text x="41.6" y="492.68" font-size="6.6" text-anchor="end" stroke="#222" stroke-width="0.16" textLength="14.2" lengthAdjust="spacingAndGlyphs">2000</text><text x="41.6" y="507.18" font-size="6.6" text-anchor="end" stroke="#222" stroke-width="0.16" textLength="3.55" lengthAdjust="spacingAndGlyphs">0</text><path d="M47.5,432.3h-3.4M47.5,446.8h-3.4M47.5,461.3h-3.4M47.5,475.8h-3.4M47.5,490.3h-3.4M47.5,504.8h-3.4" stroke="#222" stroke-width="1"/><line x1="46" y1="504.5" x2="156.25" y2="504.5" stroke="#222" stroke-width="1.1"/><line x1="64.1" y1="504.5" x2="64.1" y2="506.7" stroke="#222" stroke-width="0.9"/><line x1="89.1" y1="504.5" x2="89.1" y2="506.7" stroke="#222" stroke-width="0.9"/><line x1="114.1" y1="504.5" x2="114.1" y2="506.7" stroke="#222" stroke-width="0.9"/><line x1="139.1" y1="504.5" x2="139.1" y2="506.7" stroke="#222" stroke-width="0.9"/><path d="M62,445.1v6.4M62,448.3H114.25M114.25,445.1v6.4" stroke="#1a1a1a" stroke-width="0.95" fill="none"/><text x="88.12" y="448.9" font-size="6.8" fill="#111" text-anchor="middle" font-weight="bold">***</text><path d="M62,456.3v6.4M62,459.5H87.5M87.5,456.3v6.4" stroke="#1a1a1a" stroke-width="0.95" fill="none"/><text x="74.75" y="460.1" font-size="6.8" fill="#111" text-anchor="middle" font-weight="bold">*</text><path d="M89.25,456.3v6.4M89.25,459.5H114.25M114.25,456.3v6.4" stroke="#1a1a1a" stroke-width="0.95" fill="none"/><text x="101.75" y="460.1" font-size="6.8" fill="#111" text-anchor="middle" font-weight="bold">***</text><text x="18.6" y="467" font-size="8.3" text-anchor="middle" stroke="#222" stroke-width="0.16" textLength="42" lengthAdjust="spacingAndGlyphs" transform="rotate(-90 18.6 467)">HSC numbers</text><text x="68.5" y="514" font-size="7" text-anchor="end" stroke="#222" stroke-width="0.16" textLength="33.5" lengthAdjust="spacingAndGlyphs" transform="rotate(-45 68.5 514)">SoNar-high</text><text x="93.5" y="514" font-size="7" text-anchor="end" stroke="#222" stroke-width="0.16" textLength="31.5" lengthAdjust="spacingAndGlyphs" transform="rotate(-45 93.5 514)">SoNar-mid</text><text x="118.5" y="514" font-size="7" text-anchor="end" stroke="#222" stroke-width="0.16" textLength="31.5" lengthAdjust="spacingAndGlyphs" transform="rotate(-45 118.5 514)">SoNar-low</text><text x="143.5" y="514" font-size="7" text-anchor="end" stroke="#222" stroke-width="0.16" textLength="15.5" lengthAdjust="spacingAndGlyphs" transform="rotate(-45 143.5 514)">Total</text><text x="171.5" y="299.5" font-size="12" fill="#000" font-weight="bold">D</text><text x="195.8" y="312.5" font-size="7" text-anchor="middle" stroke="#222" stroke-width="0.16" textLength="17" lengthAdjust="spacingAndGlyphs">Ratio</text><text x="246.1" y="312.5" font-size="7" text-anchor="middle" stroke="#222" stroke-width="0.16" textLength="21.8" lengthAdjust="spacingAndGlyphs">405 nm</text><text x="195.3" y="379.2" font-size="7" text-anchor="middle" stroke="#222" stroke-width="0.16" textLength="21.5" lengthAdjust="spacingAndGlyphs">488 nm</text><rect x="172.2" y="314.2" width="47.6" height="57.6" fill="#000"/><rect x="222.5" y="314.4" width="47.5" height="57.4" fill="#000"/><rect x="172.2" y="381.4" width="47.6" height="57.6" fill="#000"/><g clip-path="url(#dimg1)"><g filter="url(#cellg)"><ellipse cx="184" cy="328" rx="8" ry="10" fill="#2b70b8" fill-opacity="1"/><ellipse cx="209" cy="339.5" rx="7.6" ry="8.5" fill="#2456b8" fill-opacity="1"/><ellipse cx="194" cy="346.5" rx="8.5" ry="8" fill="#34402c" fill-opacity="1"/><ellipse cx="199" cy="360" rx="7.6" ry="8.5" fill="#4a9a50" fill-opacity="1"/><ellipse cx="220" cy="347" rx="2" ry="6" fill="#3a9a50" fill-opacity="1"/><ellipse cx="184" cy="328" rx="8" ry="10" fill="url(#rimA)" fill-opacity="1"/><ellipse cx="199" cy="360" rx="7.6" ry="8.5" fill="url(#rimD)" fill-opacity="1"/><ellipse cx="194" cy="346.5" rx="8.5" ry="8" fill="#802818" fill-opacity="0.2"/></g><g filter="url(#mott)" opacity="0.6"><ellipse cx="184" cy="328" rx="7" ry="9" fill="#fff" fill-opacity="1"/><ellipse cx="209" cy="339.5" rx="6.6" ry="7.5" fill="#fff" fill-opacity="1"/><ellipse cx="199" cy="360" rx="6.6" ry="7.5" fill="#fff" fill-opacity="1"/><ellipse cx="220" cy="347" rx="1" ry="5" fill="#fff" fill-opacity="1"/></g></g><polygon points="194,325.7 201.2,322.8 201.2,328.6" fill="#2fb52f"/><polygon points="209.7,330 207.2,322.8 212.2,322.8" fill="#e030b0"/><polygon points="191.2,362.3 184.2,358.8 184.2,365.6" fill="#ee1a1a"/><g clip-path="url(#dimg2)"><g filter="url(#cellg)"><ellipse cx="235" cy="328" rx="8.3" ry="10" fill="#1a3eb8" fill-opacity="1"/><ellipse cx="260" cy="340.5" rx="7.6" ry="8.2" fill="#1a3eb8" fill-opacity="1"/><ellipse cx="244.5" cy="347" rx="8" ry="8" fill="#12287c" fill-opacity="1"/><ellipse cx="250" cy="361.5" rx="7.6" ry="8.2" fill="#1a3eb8" fill-opacity="1"/><ellipse cx="270.5" cy="348" rx="1.5" ry="6" fill="#1a3eb8" fill-opacity="1"/></g></g><g clip-path="url(#dimg3)"><g filter="url(#cellg)"><ellipse cx="183.5" cy="394" rx="8.4" ry="10.3" fill="#58c832" fill-opacity="1"/><ellipse cx="208.5" cy="406.5" rx="7.7" ry="8.4" fill="#66d234" fill-opacity="1"/><ellipse cx="193.5" cy="413.5" rx="8.4" ry="8.8" fill="#2a7a22" fill-opacity="1"/><ellipse cx="198.5" cy="426" rx="7.5" ry="8" fill="#44a82c" fill-opacity="1"/><ellipse cx="220" cy="414" rx="1.6" ry="6" fill="#44a82c" fill-opacity="1"/></g></g><line x1="203.2" y1="433.8" x2="217.8" y2="433.8" stroke="#fff" stroke-width="1.5"/><rect x="233.6" y="382.5" width="2.8" height="53" fill="url(#cbar)"/><line x1="231.8" y1="383.6" x2="233.6" y2="383.6" stroke="#444" stroke-width="0.6"/><text x="239.3" y="386" font-size="6.6" stroke="#222" stroke-width="0.16">2.0</text><line x1="231.8" y1="396.6" x2="233.6" y2="396.6" stroke="#444" stroke-width="0.6"/><text x="239.3" y="399" font-size="6.6" stroke="#222" stroke-width="0.16">1.5</text><line x1="231.8" y1="409.6" x2="233.6" y2="409.6" stroke="#444" stroke-width="0.6"/><text x="239.3" y="412" font-size="6.6" stroke="#222" stroke-width="0.16">1</text><line x1="231.8" y1="422.6" x2="233.6" y2="422.6" stroke="#444" stroke-width="0.6"/><text x="239.3" y="425" font-size="6.6" stroke="#222" stroke-width="0.16">0.5</text><line x1="231.8" y1="435.6" x2="233.6" y2="435.6" stroke="#444" stroke-width="0.6"/><text x="239.3" y="438" font-size="6.6" stroke="#222" stroke-width="0.16">0.0</text><text x="230.2" y="409.5" font-size="6.6" text-anchor="middle" stroke="#222" stroke-width="0.16" textLength="58" lengthAdjust="spacingAndGlyphs" transform="rotate(-90 230.2 409.5)">Ratio F405/F488 nm</text><line x1="176" y1="449.3" x2="180.5" y2="449.3" stroke="#e02020" stroke-width="1.2"/><text x="182.3" y="451.6" font-size="6.6" stroke="#222" stroke-width="0.16" textLength="13" lengthAdjust="spacingAndGlyphs">High</text><line x1="204" y1="449.3" x2="208" y2="449.3" stroke="#60c040" stroke-width="1.2"/><text x="209" y="451.6" font-size="6.6" stroke="#222" stroke-width="0.16" textLength="11" lengthAdjust="spacingAndGlyphs">Mid</text><line x1="226" y1="449.3" x2="230.5" y2="449.3" stroke="#d040b0" stroke-width="1.2"/><text x="232.5" y="451.6" font-size="6.6" stroke="#222" stroke-width="0.16" textLength="11.3" lengthAdjust="spacingAndGlyphs">Low</text><text x="286.2" y="299.5" font-size="12" fill="#000" font-weight="bold">E</text><line x1="313" y1="312" x2="313" y2="380.6" stroke="#222" stroke-width="1.1"/><text x="307.8" y="315.38" font-size="6.6" text-anchor="end" stroke="#222" stroke-width="0.16" textLength="9" lengthAdjust="spacingAndGlyphs">2.5</text><text x="307.8" y="327.8" font-size="6.6" text-anchor="end" stroke="#222" stroke-width="0.16" textLength="9" lengthAdjust="spacingAndGlyphs">2.0</text><text x="307.8" y="340.22" font-size="6.6" text-anchor="end" stroke="#222" stroke-width="0.16" textLength="9" lengthAdjust="spacingAndGlyphs">1.5</text><text x="307.8" y="352.64" font-size="6.6" text-anchor="end" stroke="#222" stroke-width="0.16" textLength="9" lengthAdjust="spacingAndGlyphs">1.0</text><text x="307.8" y="365.06" font-size="6.6" text-anchor="end" stroke="#222" stroke-width="0.16" textLength="9" lengthAdjust="spacingAndGlyphs">0.5</text><text x="307.8" y="377.48" font-size="6.6" text-anchor="end" stroke="#222" stroke-width="0.16" textLength="9" lengthAdjust="spacingAndGlyphs">0.0</text><path d="M313,313h-3.4M313,325.42h-3.4M313,337.84h-3.4M313,350.26h-3.4M313,362.68h-3.4M313,375.1h-3.4" stroke="#222" stroke-width="1"/><line x1="313" y1="380" x2="366.3" y2="380" stroke="#222" stroke-width="1.1"/><line x1="340" y1="380" x2="340" y2="382.2" stroke="#222" stroke-width="0.9"/><g fill="none" stroke="#222" stroke-width="0.32"><circle cx="340" cy="367.2" r="0.62"/><circle cx="341.25" cy="367.2" r="0.62"/><circle cx="338.75" cy="367.2" r="0.62"/><circle cx="342.5" cy="367.2" r="0.62"/><circle cx="337.5" cy="367.2" r="0.62"/><circle cx="343.75" cy="367.2" r="0.62"/><circle cx="336.25" cy="367.2" r="0.62"/><circle cx="345" cy="367.2" r="0.62"/><circle cx="335" cy="367.2" r="0.62"/><circle cx="346.25" cy="367.2" r="0.62"/><circle cx="333.75" cy="367.2" r="0.62"/><circle cx="347.5" cy="367.2" r="0.62"/><circle cx="332.5" cy="367.2" r="0.62"/><circle cx="348.75" cy="367.2" r="0.62"/><circle cx="331.25" cy="367.2" r="0.62"/><circle cx="350" cy="367.2" r="0.62"/><circle cx="330" cy="367.2" r="0.62"/><circle cx="351.25" cy="367.2" r="0.62"/><circle cx="328.75" cy="367.2" r="0.62"/><circle cx="352.5" cy="367.2" r="0.62"/><circle cx="327.5" cy="367.2" r="0.62"/><circle cx="353.75" cy="367.2" r="0.62"/><circle cx="326.25" cy="367.2" r="0.62"/><circle cx="355" cy="367.2" r="0.62"/><circle cx="325" cy="367.2" r="0.62"/><circle cx="340" cy="366.3" r="0.62"/><circle cx="341.25" cy="366.3" r="0.62"/><circle cx="338.75" cy="366.3" r="0.62"/><circle cx="342.5" cy="366.3" r="0.62"/><circle cx="337.5" cy="366.3" r="0.62"/><circle cx="343.75" cy="366.3" r="0.62"/><circle cx="336.25" cy="366.3" r="0.62"/><circle cx="345" cy="366.3" r="0.62"/><circle cx="335" cy="366.3" r="0.62"/><circle cx="346.25" cy="366.3" r="0.62"/><circle cx="333.75" cy="366.3" r="0.62"/><circle cx="347.5" cy="366.3" r="0.62"/><circle cx="332.5" cy="366.3" r="0.62"/><circle cx="348.75" cy="366.3" r="0.62"/><circle cx="331.25" cy="366.3" r="0.62"/><circle cx="350" cy="366.3" r="0.62"/><circle cx="330" cy="366.3" r="0.62"/><circle cx="351.25" cy="366.3" r="0.62"/><circle cx="328.75" cy="366.3" r="0.62"/><circle cx="352.5" cy="366.3" r="0.62"/><circle cx="327.5" cy="366.3" r="0.62"/><circle cx="340" cy="365.4" r="0.62"/><circle cx="341.25" cy="365.4" r="0.62"/><circle cx="338.75" cy="365.4" r="0.62"/><circle cx="342.5" cy="365.4" r="0.62"/><circle cx="337.5" cy="365.4" r="0.62"/><circle cx="343.75" cy="365.4" r="0.62"/><circle cx="336.25" cy="365.4" r="0.62"/><circle cx="345" cy="365.4" r="0.62"/><circle cx="335" cy="365.4" r="0.62"/><circle cx="346.25" cy="365.4" r="0.62"/><circle cx="333.75" cy="365.4" r="0.62"/><circle cx="347.5" cy="365.4" r="0.62"/><circle cx="332.5" cy="365.4" r="0.62"/><circle cx="348.75" cy="365.4" r="0.62"/><circle cx="331.25" cy="365.4" r="0.62"/><circle cx="350" cy="365.4" r="0.62"/><circle cx="330" cy="365.4" r="0.62"/><circle cx="351.25" cy="365.4" r="0.62"/><circle cx="328.75" cy="365.4" r="0.62"/><circle cx="352.5" cy="365.4" r="0.62"/><circle cx="327.5" cy="365.4" r="0.62"/><circle cx="353.75" cy="365.4" r="0.62"/><circle cx="326.25" cy="365.4" r="0.62"/><circle cx="355" cy="365.4" r="0.62"/><circle cx="325" cy="365.4" r="0.62"/><circle cx="356.25" cy="365.4" r="0.62"/><circle cx="323.75" cy="365.4" r="0.62"/><circle cx="357.5" cy="365.4" r="0.62"/><circle cx="322.5" cy="365.4" r="0.62"/><circle cx="343.53" cy="365.4" r="0.62"/><circle cx="322.96" cy="365.4" r="0.62"/><circle cx="347.04" cy="365.4" r="0.62"/><circle cx="352.05" cy="365.4" r="0.62"/><circle cx="328.84" cy="365.4" r="0.62"/><circle cx="338.39" cy="365.4" r="0.62"/><circle cx="340" cy="364.5" r="0.62"/><circle cx="341.25" cy="364.5" r="0.62"/><circle cx="338.75" cy="364.5" r="0.62"/><circle cx="342.5" cy="364.5" r="0.62"/><circle cx="337.5" cy="364.5" r="0.62"/><circle cx="343.75" cy="364.5" r="0.62"/><circle cx="336.25" cy="364.5" r="0.62"/><circle cx="345" cy="364.5" r="0.62"/><circle cx="335" cy="364.5" r="0.62"/><circle cx="346.25" cy="364.5" r="0.62"/><circle cx="333.75" cy="364.5" r="0.62"/><circle cx="347.5" cy="364.5" r="0.62"/><circle cx="332.5" cy="364.5" r="0.62"/><circle cx="348.75" cy="364.5" r="0.62"/><circle cx="331.25" cy="364.5" r="0.62"/><circle cx="350" cy="364.5" r="0.62"/><circle cx="330" cy="364.5" r="0.62"/><circle cx="351.25" cy="364.5" r="0.62"/><circle cx="328.75" cy="364.5" r="0.62"/><circle cx="352.5" cy="364.5" r="0.62"/><circle cx="327.5" cy="364.5" r="0.62"/><circle cx="353.75" cy="364.5" r="0.62"/><circle cx="326.25" cy="364.5" r="0.62"/><circle cx="355" cy="364.5" r="0.62"/><circle cx="325" cy="364.5" r="0.62"/><circle cx="356.25" cy="364.5" r="0.62"/><circle cx="323.75" cy="364.5" r="0.62"/><circle cx="357.5" cy="364.5" r="0.62"/><circle cx="322.5" cy="364.5" r="0.62"/><circle cx="348.38" cy="364.5" r="0.62"/><circle cx="336.69" cy="364.5" r="0.62"/><circle cx="329.33" cy="364.5" r="0.62"/><circle cx="328.28" cy="364.5" r="0.62"/><circle cx="340.44" cy="364.5" r="0.62"/><circle cx="340" cy="363.6" r="0.62"/><circle cx="341.25" cy="363.6" r="0.62"/><circle cx="338.75" cy="363.6" r="0.62"/><circle cx="342.5" cy="363.6" r="0.62"/><circle cx="337.5" cy="363.6" r="0.62"/><circle cx="343.75" cy="363.6" r="0.62"/><circle cx="336.25" cy="363.6" r="0.62"/><circle cx="345" cy="363.6" r="0.62"/><circle cx="335" cy="363.6" r="0.62"/><circle cx="346.25" cy="363.6" r="0.62"/><circle cx="333.75" cy="363.6" r="0.62"/><circle cx="347.5" cy="363.6" r="0.62"/><circle cx="332.5" cy="363.6" r="0.62"/><circle cx="348.75" cy="363.6" r="0.62"/><circle cx="331.25" cy="363.6" r="0.62"/><circle cx="350" cy="363.6" r="0.62"/><circle cx="330" cy="363.6" r="0.62"/><circle cx="351.25" cy="363.6" r="0.62"/><circle cx="328.75" cy="363.6" r="0.62"/><circle cx="352.5" cy="363.6" r="0.62"/><circle cx="327.5" cy="363.6" r="0.62"/><circle cx="353.75" cy="363.6" r="0.62"/><circle cx="326.25" cy="363.6" r="0.62"/><circle cx="355" cy="363.6" r="0.62"/><circle cx="325" cy="363.6" r="0.62"/><circle cx="356.25" cy="363.6" r="0.62"/><circle cx="323.75" cy="363.6" r="0.62"/><circle cx="357.5" cy="363.6" r="0.62"/><circle cx="322.5" cy="363.6" r="0.62"/><circle cx="323.04" cy="363.6" r="0.62"/><circle cx="353.76" cy="363.6" r="0.62"/><circle cx="350.56" cy="363.6" r="0.62"/><circle cx="347.16" cy="363.6" r="0.62"/><circle cx="352.63" cy="363.6" r="0.62"/><circle cx="340" cy="362.7" r="0.62"/><circle cx="341.25" cy="362.7" r="0.62"/><circle cx="338.75" cy="362.7" r="0.62"/><circle cx="342.5" cy="362.7" r="0.62"/><circle cx="337.5" cy="362.7" r="0.62"/><circle cx="343.75" cy="362.7" r="0.62"/><circle cx="336.25" cy="362.7" r="0.62"/><circle cx="345" cy="362.7" r="0.62"/><circle cx="335" cy="362.7" r="0.62"/><circle cx="346.25" cy="362.7" r="0.62"/><circle cx="333.75" cy="362.7" r="0.62"/><circle cx="347.5" cy="362.7" r="0.62"/><circle cx="332.5" cy="362.7" r="0.62"/><circle cx="348.75" cy="362.7" r="0.62"/><circle cx="331.25" cy="362.7" r="0.62"/><circle cx="350" cy="362.7" r="0.62"/><circle cx="330" cy="362.7" r="0.62"/><circle cx="351.25" cy="362.7" r="0.62"/><circle cx="328.75" cy="362.7" r="0.62"/><circle cx="352.5" cy="362.7" r="0.62"/><circle cx="327.5" cy="362.7" r="0.62"/><circle cx="353.75" cy="362.7" r="0.62"/><circle cx="326.25" cy="362.7" r="0.62"/><circle cx="355" cy="362.7" r="0.62"/><circle cx="325" cy="362.7" r="0.62"/><circle cx="356.25" cy="362.7" r="0.62"/><circle cx="323.75" cy="362.7" r="0.62"/><circle cx="357.5" cy="362.7" r="0.62"/><circle cx="322.5" cy="362.7" r="0.62"/><circle cx="344.53" cy="362.7" r="0.62"/><circle cx="336.66" cy="362.7" r="0.62"/><circle cx="343.49" cy="362.7" r="0.62"/><circle cx="340.15" cy="362.7" r="0.62"/><circle cx="356.89" cy="362.7" r="0.62"/><circle cx="350.67" cy="362.7" r="0.62"/><circle cx="331.54" cy="362.7" r="0.62"/><circle cx="354.4" cy="362.7" r="0.62"/><circle cx="348.56" cy="362.7" r="0.62"/><circle cx="349.73" cy="362.7" r="0.62"/><circle cx="351.01" cy="362.7" r="0.62"/><circle cx="336.7" cy="362.7" r="0.62"/><circle cx="353.88" cy="362.7" r="0.62"/><circle cx="353.29" cy="362.7" r="0.62"/><circle cx="346.82" cy="362.7" r="0.62"/><circle cx="340" cy="361.8" r="0.62"/><circle cx="341.25" cy="361.8" r="0.62"/><circle cx="338.75" cy="361.8" r="0.62"/><circle cx="342.5" cy="361.8" r="0.62"/><circle cx="337.5" cy="361.8" r="0.62"/><circle cx="343.75" cy="361.8" r="0.62"/><circle cx="336.25" cy="361.8" r="0.62"/><circle cx="345" cy="361.8" r="0.62"/><circle cx="335" cy="361.8" r="0.62"/><circle cx="346.25" cy="361.8" r="0.62"/><circle cx="333.75" cy="361.8" r="0.62"/><circle cx="347.5" cy="361.8" r="0.62"/><circle cx="332.5" cy="361.8" r="0.62"/><circle cx="348.75" cy="361.8" r="0.62"/><circle cx="331.25" cy="361.8" r="0.62"/><circle cx="350" cy="361.8" r="0.62"/><circle cx="330" cy="361.8" r="0.62"/><circle cx="351.25" cy="361.8" r="0.62"/><circle cx="328.75" cy="361.8" r="0.62"/><circle cx="352.5" cy="361.8" r="0.62"/><circle cx="327.5" cy="361.8" r="0.62"/><circle cx="353.75" cy="361.8" r="0.62"/><circle cx="326.25" cy="361.8" r="0.62"/><circle cx="355" cy="361.8" r="0.62"/><circle cx="325" cy="361.8" r="0.62"/><circle cx="356.25" cy="361.8" r="0.62"/><circle cx="323.75" cy="361.8" r="0.62"/><circle cx="357.5" cy="361.8" r="0.62"/><circle cx="322.5" cy="361.8" r="0.62"/><circle cx="349.35" cy="361.8" r="0.62"/><circle cx="349.28" cy="361.8" r="0.62"/><circle cx="336.7" cy="361.8" r="0.62"/><circle cx="347.79" cy="361.8" r="0.62"/><circle cx="324.97" cy="361.8" r="0.62"/><circle cx="334.46" cy="361.8" r="0.62"/><circle cx="338.91" cy="361.8" r="0.62"/><circle cx="322.87" cy="361.8" r="0.62"/><circle cx="334.95" cy="361.8" r="0.62"/><circle cx="344.85" cy="361.8" r="0.62"/><circle cx="344.34" cy="361.8" r="0.62"/><circle cx="340" cy="360.9" r="0.62"/><circle cx="341.25" cy="360.9" r="0.62"/><circle cx="338.75" cy="360.9" r="0.62"/><circle cx="342.5" cy="360.9" r="0.62"/><circle cx="337.5" cy="360.9" r="0.62"/><circle cx="343.75" cy="360.9" r="0.62"/><circle cx="336.25" cy="360.9" r="0.62"/><circle cx="345" cy="360.9" r="0.62"/><circle cx="335" cy="360.9" r="0.62"/><circle cx="346.25" cy="360.9" r="0.62"/><circle cx="333.75" cy="360.9" r="0.62"/><circle cx="347.5" cy="360.9" r="0.62"/><circle cx="332.5" cy="360.9" r="0.62"/><circle cx="348.75" cy="360.9" r="0.62"/><circle cx="331.25" cy="360.9" r="0.62"/><circle cx="350" cy="360.9" r="0.62"/><circle cx="330" cy="360.9" r="0.62"/><circle cx="351.25" cy="360.9" r="0.62"/><circle cx="328.75" cy="360.9" r="0.62"/><circle cx="352.5" cy="360.9" r="0.62"/><circle cx="327.5" cy="360.9" r="0.62"/><circle cx="353.75" cy="360.9" r="0.62"/><circle cx="326.25" cy="360.9" r="0.62"/><circle cx="355" cy="360.9" r="0.62"/><circle cx="325" cy="360.9" r="0.62"/><circle cx="356.25" cy="360.9" r="0.62"/><circle cx="323.75" cy="360.9" r="0.62"/><circle cx="357.5" cy="360.9" r="0.62"/><circle cx="322.5" cy="360.9" r="0.62"/><circle cx="330.62" cy="360.9" r="0.62"/><circle cx="355.56" cy="360.9" r="0.62"/><circle cx="340" cy="360" r="0.62"/><circle cx="341.25" cy="360" r="0.62"/><circle cx="338.75" cy="360" r="0.62"/><circle cx="342.5" cy="360" r="0.62"/><circle cx="337.5" cy="360" r="0.62"/><circle cx="343.75" cy="360" r="0.62"/><circle cx="336.25" cy="360" r="0.62"/><circle cx="345" cy="360" r="0.62"/><circle cx="335" cy="360" r="0.62"/><circle cx="346.25" cy="360" r="0.62"/><circle cx="333.75" cy="360" r="0.62"/><circle cx="347.5" cy="360" r="0.62"/><circle cx="332.5" cy="360" r="0.62"/><circle cx="348.75" cy="360" r="0.62"/><circle cx="331.25" cy="360" r="0.62"/><circle cx="340" cy="359.1" r="0.62"/><circle cx="341.25" cy="359.1" r="0.62"/><circle cx="338.75" cy="359.1" r="0.62"/><circle cx="342.5" cy="359.1" r="0.62"/><circle cx="337.5" cy="359.1" r="0.62"/><circle cx="343.75" cy="359.1" r="0.62"/><circle cx="336.25" cy="359.1" r="0.62"/><circle cx="345" cy="359.1" r="0.62"/><circle cx="335" cy="359.1" r="0.62"/><circle cx="346.25" cy="359.1" r="0.62"/><circle cx="333.75" cy="359.1" r="0.62"/><circle cx="347.5" cy="359.1" r="0.62"/><circle cx="340" cy="358.2" r="0.62"/><circle cx="341.25" cy="358.2" r="0.62"/><circle cx="338.75" cy="358.2" r="0.62"/><circle cx="340" cy="357.3" r="0.62"/><circle cx="341.25" cy="357.3" r="0.62"/><circle cx="338.75" cy="357.3" r="0.62"/><circle cx="342.5" cy="357.3" r="0.62"/><circle cx="340" cy="356.4" r="0.62"/><circle cx="341.25" cy="356.4" r="0.62"/><circle cx="340" cy="354.6" r="0.62"/><circle cx="340" cy="353.7" r="0.62"/><circle cx="341.25" cy="353.7" r="0.62"/><circle cx="338.75" cy="353.7" r="0.62"/><circle cx="342.5" cy="353.7" r="0.62"/><circle cx="340" cy="352.8" r="0.62"/><circle cx="341.25" cy="352.8" r="0.62"/><circle cx="340" cy="351.9" r="0.62"/><circle cx="341.25" cy="351.9" r="0.62"/><circle cx="338.75" cy="351.9" r="0.62"/><circle cx="342.5" cy="351.9" r="0.62"/><circle cx="340" cy="351" r="0.62"/><circle cx="341.25" cy="351" r="0.62"/><circle cx="338.75" cy="351" r="0.62"/><circle cx="342.5" cy="351" r="0.62"/><circle cx="337.5" cy="351" r="0.62"/><circle cx="343.75" cy="351" r="0.62"/><circle cx="336.25" cy="351" r="0.62"/><circle cx="345" cy="351" r="0.62"/><circle cx="335" cy="351" r="0.62"/><circle cx="340" cy="350.1" r="0.62"/><circle cx="341.25" cy="350.1" r="0.62"/><circle cx="338.75" cy="350.1" r="0.62"/><circle cx="342.5" cy="350.1" r="0.62"/><circle cx="337.5" cy="350.1" r="0.62"/><circle cx="343.75" cy="350.1" r="0.62"/><circle cx="340" cy="349.2" r="0.62"/><circle cx="341.25" cy="349.2" r="0.62"/><circle cx="338.75" cy="349.2" r="0.62"/><circle cx="342.5" cy="349.2" r="0.62"/><circle cx="337.5" cy="349.2" r="0.62"/><circle cx="343.75" cy="349.2" r="0.62"/><circle cx="336.25" cy="349.2" r="0.62"/><circle cx="345" cy="349.2" r="0.62"/><circle cx="335" cy="349.2" r="0.62"/><circle cx="346.25" cy="349.2" r="0.62"/><circle cx="333.75" cy="349.2" r="0.62"/><circle cx="347.5" cy="349.2" r="0.62"/><circle cx="340" cy="348.3" r="0.62"/><circle cx="341.25" cy="348.3" r="0.62"/><circle cx="338.75" cy="348.3" r="0.62"/><circle cx="342.5" cy="348.3" r="0.62"/><circle cx="337.5" cy="348.3" r="0.62"/><circle cx="343.75" cy="348.3" r="0.62"/><circle cx="340" cy="347.4" r="0.62"/><circle cx="341.25" cy="347.4" r="0.62"/><circle cx="338.75" cy="347.4" r="0.62"/><circle cx="342.5" cy="347.4" r="0.62"/><circle cx="337.5" cy="347.4" r="0.62"/><circle cx="343.75" cy="347.4" r="0.62"/><circle cx="336.25" cy="347.4" r="0.62"/><circle cx="345" cy="347.4" r="0.62"/><circle cx="340" cy="346.5" r="0.62"/><circle cx="341.25" cy="346.5" r="0.62"/><circle cx="338.75" cy="346.5" r="0.62"/><circle cx="342.5" cy="346.5" r="0.62"/><circle cx="337.5" cy="346.5" r="0.62"/><circle cx="343.75" cy="346.5" r="0.62"/><circle cx="336.25" cy="346.5" r="0.62"/><circle cx="345" cy="346.5" r="0.62"/><circle cx="340" cy="345.6" r="0.62"/><circle cx="341.25" cy="345.6" r="0.62"/><circle cx="338.75" cy="345.6" r="0.62"/><circle cx="342.5" cy="345.6" r="0.62"/><circle cx="337.5" cy="345.6" r="0.62"/><circle cx="343.75" cy="345.6" r="0.62"/><circle cx="336.25" cy="345.6" r="0.62"/><circle cx="345" cy="345.6" r="0.62"/><circle cx="335" cy="345.6" r="0.62"/><circle cx="340" cy="344.7" r="0.62"/><circle cx="341.25" cy="344.7" r="0.62"/><circle cx="338.75" cy="344.7" r="0.62"/><circle cx="342.5" cy="344.7" r="0.62"/><circle cx="337.5" cy="344.7" r="0.62"/><circle cx="343.75" cy="344.7" r="0.62"/><circle cx="336.25" cy="344.7" r="0.62"/><circle cx="345" cy="344.7" r="0.62"/><circle cx="335" cy="344.7" r="0.62"/><circle cx="346.25" cy="344.7" r="0.62"/><circle cx="333.75" cy="344.7" r="0.62"/><circle cx="347.5" cy="344.7" r="0.62"/><circle cx="332.5" cy="344.7" r="0.62"/><circle cx="342.66" cy="344.7" r="0.62"/><circle cx="340" cy="343.8" r="0.62"/><circle cx="341.25" cy="343.8" r="0.62"/><circle cx="338.75" cy="343.8" r="0.62"/><circle cx="342.5" cy="343.8" r="0.62"/><circle cx="337.5" cy="343.8" r="0.62"/><circle cx="340" cy="342.9" r="0.62"/><circle cx="341.25" cy="342.9" r="0.62"/><circle cx="338.75" cy="342.9" r="0.62"/><circle cx="340" cy="342" r="0.62"/><circle cx="341.25" cy="342" r="0.62"/><circle cx="338.75" cy="342" r="0.62"/><circle cx="342.5" cy="342" r="0.62"/><circle cx="337.5" cy="342" r="0.62"/><circle cx="343.75" cy="342" r="0.62"/><circle cx="340" cy="341.1" r="0.62"/><circle cx="341.25" cy="341.1" r="0.62"/><circle cx="338.75" cy="341.1" r="0.62"/><circle cx="342.5" cy="341.1" r="0.62"/><circle cx="337.5" cy="341.1" r="0.62"/><circle cx="343.75" cy="341.1" r="0.62"/><circle cx="340" cy="340.2" r="0.62"/><circle cx="341.25" cy="340.2" r="0.62"/><circle cx="338.75" cy="340.2" r="0.62"/><circle cx="342.5" cy="340.2" r="0.62"/><circle cx="337.5" cy="340.2" r="0.62"/><circle cx="343.75" cy="340.2" r="0.62"/><circle cx="336.25" cy="340.2" r="0.62"/><circle cx="340" cy="339.3" r="0.62"/><circle cx="341.25" cy="339.3" r="0.62"/><circle cx="338.75" cy="339.3" r="0.62"/><circle cx="342.5" cy="339.3" r="0.62"/><circle cx="340" cy="338.4" r="0.62"/><circle cx="341.25" cy="338.4" r="0.62"/><circle cx="338.75" cy="338.4" r="0.62"/><circle cx="342.5" cy="338.4" r="0.62"/><circle cx="337.5" cy="338.4" r="0.62"/><circle cx="343.75" cy="338.4" r="0.62"/><circle cx="336.25" cy="338.4" r="0.62"/><circle cx="340" cy="337.5" r="0.62"/><circle cx="341.25" cy="337.5" r="0.62"/><circle cx="340" cy="336.6" r="0.62"/><circle cx="341.25" cy="336.6" r="0.62"/><circle cx="338.75" cy="336.6" r="0.62"/><circle cx="342.5" cy="336.6" r="0.62"/><circle cx="337.5" cy="336.6" r="0.62"/><circle cx="343.75" cy="336.6" r="0.62"/><circle cx="336.25" cy="336.6" r="0.62"/><circle cx="340" cy="335.7" r="0.62"/><circle cx="341.25" cy="335.7" r="0.62"/><circle cx="340" cy="334.8" r="0.62"/><circle cx="341.25" cy="334.8" r="0.62"/><circle cx="340" cy="333.9" r="0.62"/><circle cx="341.25" cy="333.9" r="0.62"/><circle cx="338.75" cy="333.9" r="0.62"/><circle cx="342.5" cy="333.9" r="0.62"/><circle cx="340" cy="333" r="0.62"/><circle cx="340" cy="331.2" r="0.62"/><circle cx="340" cy="330.3" r="0.62"/><circle cx="340" cy="329.4" r="0.62"/><circle cx="341.25" cy="329.4" r="0.62"/><circle cx="340" cy="328.5" r="0.62"/><circle cx="341.25" cy="328.5" r="0.62"/><circle cx="340" cy="327.6" r="0.62"/><circle cx="340" cy="326.7" r="0.62"/><circle cx="341.25" cy="326.7" r="0.62"/><circle cx="338.75" cy="326.7" r="0.62"/><circle cx="342.5" cy="326.7" r="0.62"/><circle cx="337.5" cy="326.7" r="0.62"/><circle cx="340" cy="325.8" r="0.62"/><circle cx="341.25" cy="325.8" r="0.62"/><circle cx="340" cy="324" r="0.62"/><circle cx="341.25" cy="324" r="0.62"/><circle cx="340" cy="323.1" r="0.62"/><circle cx="341.25" cy="323.1" r="0.62"/><circle cx="340" cy="322.2" r="0.62"/></g><rect x="321" y="312.1" width="38.7" height="18.3" rx="2.4" fill="none" stroke="#b0203a" stroke-width="1.1" stroke-dasharray="2.6 1.1"/><rect x="321" y="331" width="38.7" height="26.8" rx="2.4" fill="none" stroke="#58b040" stroke-width="1.1" stroke-dasharray="2.6 1.1"/><rect x="321" y="358.3" width="38.7" height="17.3" rx="2.4" fill="none" stroke="#3a5aa8" stroke-width="1.1" stroke-dasharray="2.6 1.1"/><text x="362" y="322.8" font-size="6.6" stroke="#222" stroke-width="0.16" textLength="36.5" lengthAdjust="spacingAndGlyphs">High (6.73%)</text><text x="362" y="346.8" font-size="6.6" stroke="#222" stroke-width="0.16" textLength="39" lengthAdjust="spacingAndGlyphs">Mid (38.95%)</text><text x="362" y="369.3" font-size="6.6" stroke="#222" stroke-width="0.16" textLength="39" lengthAdjust="spacingAndGlyphs">Low (54.32%)</text><text x="340" y="392.3" font-size="6.8" text-anchor="middle" stroke="#222" stroke-width="0.16" textLength="44" lengthAdjust="spacingAndGlyphs">SoNar FL-HSCs</text><text x="293" y="345.6" font-size="8.3" text-anchor="middle" stroke="#222" stroke-width="0.16" textLength="66" lengthAdjust="spacingAndGlyphs" transform="rotate(-90 293 345.6)">Ratio (F405/F488 nm)</text><text x="287" y="429.3" font-size="12" fill="#000" font-weight="bold">F</text><line x1="313" y1="453.5" x2="313" y2="505.6" stroke="#222" stroke-width="1.1"/><text x="307.3" y="457.88" font-size="6.6" text-anchor="end" stroke="#222" stroke-width="0.16" textLength="9" lengthAdjust="spacingAndGlyphs">2.5</text><text x="307.3" y="467.78" font-size="6.6" text-anchor="end" stroke="#222" stroke-width="0.16" textLength="9" lengthAdjust="spacingAndGlyphs">2.0</text><text x="307.3" y="477.68" font-size="6.6" text-anchor="end" stroke="#222" stroke-width="0.16" textLength="9" lengthAdjust="spacingAndGlyphs">1.5</text><text x="307.3" y="487.58" font-size="6.6" text-anchor="end" stroke="#222" stroke-width="0.16" textLength="9" lengthAdjust="spacingAndGlyphs">1.0</text><text x="307.3" y="497.48" font-size="6.6" text-anchor="end" stroke="#222" stroke-width="0.16" textLength="9" lengthAdjust="spacingAndGlyphs">0.5</text><text x="307.3" y="507.38" font-size="6.6" text-anchor="end" stroke="#222" stroke-width="0.16" textLength="9" lengthAdjust="spacingAndGlyphs">0.0</text><path d="M313,455.5h-3.4M313,465.4h-3.4M313,475.3h-3.4M313,485.2h-3.4M313,495.1h-3.4M313,505h-3.4" stroke="#222" stroke-width="1"/><line x1="313" y1="505" x2="373" y2="505" stroke="#222" stroke-width="1.1"/><line x1="328" y1="505" x2="328" y2="507.2" stroke="#222" stroke-width="0.9"/><line x1="357.5" y1="505" x2="357.5" y2="507.2" stroke="#222" stroke-width="0.9"/><g fill="none" stroke="#a5002b" stroke-width="0.6"><circle cx="328.1" cy="497.32" r="0.95"/><circle cx="330.15" cy="496.74" r="0.95"/><circle cx="325.85" cy="497.29" r="0.95"/><circle cx="331.75" cy="497.08" r="0.95"/><circle cx="323.94" cy="496.76" r="0.95"/><circle cx="334.09" cy="496.68" r="0.95"/><circle cx="327.73" cy="495.17" r="0.95"/><circle cx="329.7" cy="494.94" r="0.95"/><circle cx="326.05" cy="495.42" r="0.95"/><circle cx="332.26" cy="494.99" r="0.95"/><circle cx="323.95" cy="495.12" r="0.95"/><circle cx="334.07" cy="495.24" r="0.95"/><circle cx="322.31" cy="495.16" r="0.95"/><circle cx="335.69" cy="495.39" r="0.95"/><circle cx="319.76" cy="495.34" r="0.95"/><circle cx="338" cy="495.54" r="0.95"/><circle cx="328.04" cy="493.58" r="0.95"/><circle cx="329.83" cy="493.54" r="0.95"/><circle cx="325.83" cy="493.68" r="0.95"/><circle cx="332.01" cy="493.24" r="0.95"/><circle cx="323.81" cy="493.41" r="0.95"/><circle cx="334.17" cy="493.28" r="0.95"/><circle cx="322.15" cy="493.61" r="0.95"/><circle cx="335.71" cy="493.62" r="0.95"/><circle cx="319.71" cy="493.24" r="0.95"/><circle cx="338.07" cy="493.32" r="0.95"/><circle cx="318.26" cy="493.49" r="0.95"/><circle cx="327.88" cy="491.96" r="0.95"/><circle cx="329.67" cy="491.91" r="0.95"/><circle cx="325.69" cy="491.51" r="0.95"/><circle cx="332.32" cy="491.88" r="0.95"/><circle cx="323.81" cy="491.48" r="0.95"/><circle cx="334.33" cy="491.87" r="0.95"/><circle cx="322.22" cy="491.5" r="0.95"/><circle cx="336.09" cy="491.65" r="0.95"/><circle cx="319.81" cy="491.63" r="0.95"/><circle cx="338.08" cy="491.64" r="0.95"/><circle cx="317.92" cy="491.5" r="0.95"/><circle cx="328.23" cy="490.1" r="0.95"/><circle cx="330.21" cy="489.95" r="0.95"/><circle cx="326.25" cy="490.01" r="0.95"/><circle cx="332.06" cy="490.05" r="0.95"/><circle cx="328.17" cy="488.18" r="0.95"/><circle cx="329.72" cy="487.92" r="0.95"/><circle cx="325.79" cy="487.93" r="0.95"/><circle cx="328.27" cy="486.49" r="0.95"/><circle cx="330.18" cy="486.15" r="0.95"/><circle cx="327.98" cy="485.02" r="0.95"/><circle cx="330.08" cy="484.7" r="0.95"/><circle cx="325.98" cy="484.47" r="0.95"/><circle cx="331.76" cy="484.51" r="0.95"/><circle cx="323.91" cy="484.67" r="0.95"/><circle cx="334.27" cy="484.51" r="0.95"/><circle cx="321.83" cy="484.59" r="0.95"/><circle cx="335.76" cy="484.6" r="0.95"/><circle cx="319.81" cy="484.74" r="0.95"/><circle cx="327.67" cy="483.3" r="0.95"/><circle cx="329.91" cy="483.31" r="0.95"/><circle cx="326.13" cy="483.12" r="0.95"/><circle cx="331.98" cy="483.31" r="0.95"/><circle cx="323.73" cy="483.12" r="0.95"/><circle cx="327.85" cy="481.37" r="0.95"/><circle cx="330.16" cy="481.01" r="0.95"/><circle cx="325.79" cy="480.92" r="0.95"/><circle cx="331.81" cy="480.95" r="0.95"/><circle cx="323.93" cy="481.58" r="0.95"/><circle cx="333.9" cy="481.12" r="0.95"/><circle cx="321.98" cy="481.1" r="0.95"/><circle cx="336.16" cy="481.4" r="0.95"/><circle cx="319.76" cy="481.07" r="0.95"/><circle cx="338.12" cy="481.56" r="0.95"/><circle cx="318.1" cy="481.2" r="0.95"/><circle cx="328.33" cy="479.15" r="0.95"/><circle cx="329.69" cy="479.7" r="0.95"/><circle cx="325.94" cy="479.18" r="0.95"/><circle cx="332.03" cy="479.84" r="0.95"/><circle cx="324.01" cy="479.4" r="0.95"/><circle cx="333.72" cy="479.2" r="0.95"/><circle cx="322.28" cy="479.49" r="0.95"/><circle cx="336.31" cy="479.19" r="0.95"/><circle cx="319.82" cy="479.19" r="0.95"/><circle cx="337.93" cy="479.19" r="0.95"/><circle cx="317.83" cy="479.44" r="0.95"/><circle cx="327.86" cy="477.44" r="0.95"/><circle cx="329.68" cy="478.08" r="0.95"/><circle cx="325.78" cy="477.76" r="0.95"/><circle cx="331.93" cy="477.77" r="0.95"/><circle cx="323.71" cy="477.62" r="0.95"/><circle cx="333.73" cy="477.78" r="0.95"/><circle cx="322.29" cy="477.82" r="0.95"/><circle cx="336.25" cy="477.55" r="0.95"/><circle cx="319.66" cy="477.78" r="0.95"/><circle cx="337.99" cy="477.8" r="0.95"/><circle cx="317.91" cy="477.84" r="0.95"/><circle cx="328.16" cy="476.29" r="0.95"/><circle cx="329.87" cy="475.96" r="0.95"/><circle cx="326.23" cy="475.81" r="0.95"/><circle cx="331.73" cy="475.87" r="0.95"/><circle cx="323.71" cy="476.19" r="0.95"/><circle cx="334.22" cy="475.87" r="0.95"/><circle cx="321.74" cy="475.71" r="0.95"/><circle cx="335.82" cy="475.71" r="0.95"/><circle cx="319.95" cy="476.05" r="0.95"/><circle cx="337.82" cy="475.69" r="0.95"/><circle cx="318.14" cy="475.68" r="0.95"/><circle cx="327.79" cy="474.1" r="0.95"/><circle cx="329.91" cy="473.97" r="0.95"/><circle cx="325.94" cy="474.12" r="0.95"/><circle cx="332.18" cy="474.29" r="0.95"/><circle cx="324.28" cy="474.36" r="0.95"/><circle cx="334.18" cy="474.3" r="0.95"/><circle cx="321.96" cy="474.47" r="0.95"/><circle cx="336.11" cy="474.57" r="0.95"/><circle cx="320.16" cy="474.39" r="0.95"/><circle cx="337.84" cy="474.47" r="0.95"/><circle cx="317.92" cy="473.99" r="0.95"/><circle cx="327.7" cy="472.27" r="0.95"/><circle cx="329.83" cy="472.62" r="0.95"/><circle cx="325.85" cy="472.19" r="0.95"/><circle cx="332.18" cy="472.54" r="0.95"/><circle cx="323.67" cy="472.19" r="0.95"/><circle cx="333.74" cy="472.4" r="0.95"/><circle cx="328.25" cy="471.06" r="0.95"/><circle cx="330.08" cy="470.56" r="0.95"/><circle cx="325.95" cy="470.65" r="0.95"/><circle cx="331.88" cy="470.41" r="0.95"/><circle cx="324.06" cy="470.98" r="0.95"/><circle cx="328.16" cy="468.72" r="0.95"/><circle cx="330.02" cy="468.77" r="0.95"/><circle cx="328.15" cy="467.21" r="0.95"/><circle cx="330.31" cy="467.46" r="0.95"/><circle cx="325.73" cy="467.12" r="0.95"/><circle cx="332.29" cy="467.22" r="0.95"/><circle cx="327.95" cy="465.46" r="0.95"/><circle cx="330.19" cy="465.81" r="0.95"/><circle cx="326.02" cy="465.83" r="0.95"/><circle cx="332.07" cy="465.22" r="0.95"/><circle cx="328.22" cy="463.69" r="0.95"/><circle cx="329.69" cy="464.08" r="0.95"/><circle cx="327.67" cy="462.05" r="0.95"/><circle cx="327.99" cy="460.52" r="0.95"/><circle cx="329.92" cy="460.05" r="0.95"/><circle cx="327.84" cy="456.54" r="0.95"/></g><g fill="none" stroke="#34558f" stroke-width="0.6"><path d="M357.54,495.8l1.1,1.1l-1.1,1.1l-1.1,-1.1z"/><path d="M359.68,495.72l1.1,1.1l-1.1,1.1l-1.1,-1.1z"/><path d="M355.4,495.72l1.1,1.1l-1.1,1.1l-1.1,-1.1z"/><path d="M361.84,496.14l1.1,1.1l-1.1,1.1l-1.1,-1.1z"/><path d="M353.74,495.98l1.1,1.1l-1.1,1.1l-1.1,-1.1z"/><path d="M357.43,493.9l1.1,1.1l-1.1,1.1l-1.1,-1.1z"/><path d="M359.73,494.14l1.1,1.1l-1.1,1.1l-1.1,-1.1z"/><path d="M355.18,493.92l1.1,1.1l-1.1,1.1l-1.1,-1.1z"/><path d="M361.22,494.3l1.1,1.1l-1.1,1.1l-1.1,-1.1z"/><path d="M353.78,493.94l1.1,1.1l-1.1,1.1l-1.1,-1.1z"/><path d="M363.71,494.03l1.1,1.1l-1.1,1.1l-1.1,-1.1z"/><path d="M351.63,494.4l1.1,1.1l-1.1,1.1l-1.1,-1.1z"/><path d="M365.59,494.36l1.1,1.1l-1.1,1.1l-1.1,-1.1z"/><path d="M349.41,493.81l1.1,1.1l-1.1,1.1l-1.1,-1.1z"/><path d="M367.51,494.21l1.1,1.1l-1.1,1.1l-1.1,-1.1z"/><path d="M347.28,494.07l1.1,1.1l-1.1,1.1l-1.1,-1.1z"/><path d="M357.37,492.07l1.1,1.1l-1.1,1.1l-1.1,-1.1z"/><path d="M359.37,492.32l1.1,1.1l-1.1,1.1l-1.1,-1.1z"/><path d="M355.48,492.54l1.1,1.1l-1.1,1.1l-1.1,-1.1z"/><path d="M361.43,492.74l1.1,1.1l-1.1,1.1l-1.1,-1.1z"/><path d="M353.72,492.7l1.1,1.1l-1.1,1.1l-1.1,-1.1z"/><path d="M363.63,492.52l1.1,1.1l-1.1,1.1l-1.1,-1.1z"/><path d="M351.53,492.61l1.1,1.1l-1.1,1.1l-1.1,-1.1z"/><path d="M365.4,492.47l1.1,1.1l-1.1,1.1l-1.1,-1.1z"/><path d="M349.63,492.42l1.1,1.1l-1.1,1.1l-1.1,-1.1z"/><path d="M367.35,492.1l1.1,1.1l-1.1,1.1l-1.1,-1.1z"/><path d="M347.21,492.3l1.1,1.1l-1.1,1.1l-1.1,-1.1z"/><path d="M357.56,490.83l1.1,1.1l-1.1,1.1l-1.1,-1.1z"/><path d="M359.65,490.51l1.1,1.1l-1.1,1.1l-1.1,-1.1z"/><path d="M355.8,490.49l1.1,1.1l-1.1,1.1l-1.1,-1.1z"/><path d="M361.65,490.35l1.1,1.1l-1.1,1.1l-1.1,-1.1z"/><path d="M353.68,490.77l1.1,1.1l-1.1,1.1l-1.1,-1.1z"/><path d="M363.82,490.93l1.1,1.1l-1.1,1.1l-1.1,-1.1z"/><path d="M351.63,490.89l1.1,1.1l-1.1,1.1l-1.1,-1.1z"/><path d="M365.67,490.73l1.1,1.1l-1.1,1.1l-1.1,-1.1z"/><path d="M349.3,490.66l1.1,1.1l-1.1,1.1l-1.1,-1.1z"/><path d="M367.78,490.47l1.1,1.1l-1.1,1.1l-1.1,-1.1z"/><path d="M347.83,490.68l1.1,1.1l-1.1,1.1l-1.1,-1.1z"/><path d="M357.43,488.55l1.1,1.1l-1.1,1.1l-1.1,-1.1z"/><path d="M359.42,488.67l1.1,1.1l-1.1,1.1l-1.1,-1.1z"/><path d="M355.61,489.18l1.1,1.1l-1.1,1.1l-1.1,-1.1z"/><path d="M361.79,488.98l1.1,1.1l-1.1,1.1l-1.1,-1.1z"/><path d="M353.42,488.63l1.1,1.1l-1.1,1.1l-1.1,-1.1z"/><path d="M363.63,488.94l1.1,1.1l-1.1,1.1l-1.1,-1.1z"/><path d="M351.65,488.81l1.1,1.1l-1.1,1.1l-1.1,-1.1z"/><path d="M365.77,488.7l1.1,1.1l-1.1,1.1l-1.1,-1.1z"/><path d="M349.36,488.74l1.1,1.1l-1.1,1.1l-1.1,-1.1z"/><path d="M367.59,489.18l1.1,1.1l-1.1,1.1l-1.1,-1.1z"/><path d="M347.27,488.99l1.1,1.1l-1.1,1.1l-1.1,-1.1z"/><path d="M357.69,486.96l1.1,1.1l-1.1,1.1l-1.1,-1.1z"/><path d="M359.19,487.2l1.1,1.1l-1.1,1.1l-1.1,-1.1z"/><path d="M355.73,487.42l1.1,1.1l-1.1,1.1l-1.1,-1.1z"/><path d="M361.66,487.09l1.1,1.1l-1.1,1.1l-1.1,-1.1z"/><path d="M357.45,485.42l1.1,1.1l-1.1,1.1l-1.1,-1.1z"/><path d="M359.78,485.26l1.1,1.1l-1.1,1.1l-1.1,-1.1z"/><path d="M355.35,485.47l1.1,1.1l-1.1,1.1l-1.1,-1.1z"/><path d="M357.83,483.43l1.1,1.1l-1.1,1.1l-1.1,-1.1z"/><path d="M359.17,483.38l1.1,1.1l-1.1,1.1l-1.1,-1.1z"/><path d="M355.54,483.72l1.1,1.1l-1.1,1.1l-1.1,-1.1z"/><path d="M361.28,483.43l1.1,1.1l-1.1,1.1l-1.1,-1.1z"/><path d="M357.57,482l1.1,1.1l-1.1,1.1l-1.1,-1.1z"/><path d="M359.63,482.06l1.1,1.1l-1.1,1.1l-1.1,-1.1z"/><path d="M355.19,481.89l1.1,1.1l-1.1,1.1l-1.1,-1.1z"/><path d="M361.73,482.22l1.1,1.1l-1.1,1.1l-1.1,-1.1z"/><path d="M353.37,482.15l1.1,1.1l-1.1,1.1l-1.1,-1.1z"/><path d="M363.6,482.2l1.1,1.1l-1.1,1.1l-1.1,-1.1z"/><path d="M351.31,482.04l1.1,1.1l-1.1,1.1l-1.1,-1.1z"/><path d="M357.74,480.13l1.1,1.1l-1.1,1.1l-1.1,-1.1z"/><path d="M359.22,479.94l1.1,1.1l-1.1,1.1l-1.1,-1.1z"/><path d="M355.26,479.86l1.1,1.1l-1.1,1.1l-1.1,-1.1z"/><path d="M361.26,480.23l1.1,1.1l-1.1,1.1l-1.1,-1.1z"/><path d="M353.22,480.33l1.1,1.1l-1.1,1.1l-1.1,-1.1z"/><path d="M363.67,480.37l1.1,1.1l-1.1,1.1l-1.1,-1.1z"/><path d="M357.71,478.55l1.1,1.1l-1.1,1.1l-1.1,-1.1z"/><path d="M359.8,478.72l1.1,1.1l-1.1,1.1l-1.1,-1.1z"/><path d="M355.59,478.73l1.1,1.1l-1.1,1.1l-1.1,-1.1z"/><path d="M361.22,478.12l1.1,1.1l-1.1,1.1l-1.1,-1.1z"/><path d="M353.2,478.19l1.1,1.1l-1.1,1.1l-1.1,-1.1z"/><path d="M363.41,478.37l1.1,1.1l-1.1,1.1l-1.1,-1.1z"/><path d="M351.63,478.57l1.1,1.1l-1.1,1.1l-1.1,-1.1z"/><path d="M365.21,478.33l1.1,1.1l-1.1,1.1l-1.1,-1.1z"/><path d="M357.53,476.56l1.1,1.1l-1.1,1.1l-1.1,-1.1z"/><path d="M359.23,476.72l1.1,1.1l-1.1,1.1l-1.1,-1.1z"/><path d="M355.41,476.78l1.1,1.1l-1.1,1.1l-1.1,-1.1z"/><path d="M361.5,476.97l1.1,1.1l-1.1,1.1l-1.1,-1.1z"/><path d="M353.81,476.35l1.1,1.1l-1.1,1.1l-1.1,-1.1z"/><path d="M357.68,473.3l1.1,1.1l-1.1,1.1l-1.1,-1.1z"/><path d="M359.36,472.88l1.1,1.1l-1.1,1.1l-1.1,-1.1z"/><path d="M355.49,473.05l1.1,1.1l-1.1,1.1l-1.1,-1.1z"/><path d="M361.67,473.44l1.1,1.1l-1.1,1.1l-1.1,-1.1z"/><path d="M353.42,473l1.1,1.1l-1.1,1.1l-1.1,-1.1z"/><path d="M357.5,471.54l1.1,1.1l-1.1,1.1l-1.1,-1.1z"/><path d="M357.7,469.7l1.1,1.1l-1.1,1.1l-1.1,-1.1z"/><path d="M359.36,469.54l1.1,1.1l-1.1,1.1l-1.1,-1.1z"/><path d="M355.74,469.66l1.1,1.1l-1.1,1.1l-1.1,-1.1z"/><path d="M361.19,469.59l1.1,1.1l-1.1,1.1l-1.1,-1.1z"/><path d="M357.32,468.02l1.1,1.1l-1.1,1.1l-1.1,-1.1z"/><path d="M357.2,465.99l1.1,1.1l-1.1,1.1l-1.1,-1.1z"/><path d="M357.22,464.38l1.1,1.1l-1.1,1.1l-1.1,-1.1z"/><path d="M359.84,464.43l1.1,1.1l-1.1,1.1l-1.1,-1.1z"/><path d="M357.42,462.95l1.1,1.1l-1.1,1.1l-1.1,-1.1z"/><path d="M357.21,460.8l1.1,1.1l-1.1,1.1l-1.1,-1.1z"/><path d="M359.72,460.55l1.1,1.1l-1.1,1.1l-1.1,-1.1z"/><path d="M357.69,455.55l1.1,1.1l-1.1,1.1l-1.1,-1.1z"/></g><line x1="318" y1="479.8" x2="338" y2="479.8" stroke="#111" stroke-width="1.1"/><line x1="328" y1="469.6" x2="328" y2="489.8" stroke="#111" stroke-width="0.9"/><line x1="324" y1="469.6" x2="332" y2="469.6" stroke="#111" stroke-width="0.9"/><line x1="324" y1="489.8" x2="332" y2="489.8" stroke="#111" stroke-width="0.9"/><line x1="347.5" y1="488" x2="367.5" y2="488" stroke="#111" stroke-width="1.1"/><line x1="357.5" y1="478.3" x2="357.5" y2="497.3" stroke="#111" stroke-width="0.9"/><line x1="353.5" y1="478.3" x2="361.5" y2="478.3" stroke="#111" stroke-width="0.9"/><line x1="353.5" y1="497.3" x2="361.5" y2="497.3" stroke="#111" stroke-width="0.9"/><path d="M328,449.4v6.4M328,452.6H358.3M358.3,449.4v6.4" stroke="#1a1a1a" stroke-width="0.95" fill="none"/><text x="343.15" y="453.2" font-size="6.8" fill="#111" text-anchor="middle" font-weight="bold">***</text><text x="293" y="478" font-size="8.3" text-anchor="middle" stroke="#222" stroke-width="0.16" textLength="66" lengthAdjust="spacingAndGlyphs" transform="rotate(-90 293 478)">Ratio (F405/F488 nm)</text><text x="332" y="514.5" font-size="7" text-anchor="end" stroke="#222" stroke-width="0.16" textLength="31" lengthAdjust="spacingAndGlyphs" transform="rotate(-45 332 514.5)">Total cells</text><text x="361.5" y="514.5" font-size="7" text-anchor="end" stroke="#222" stroke-width="0.16" textLength="24" lengthAdjust="spacingAndGlyphs" transform="rotate(-45 361.5 514.5)">FL-HSCs</text><text x="416.6" y="300" font-size="12" fill="#000" font-weight="bold">G</text><line x1="462.43" y1="334.5" x2="462.43" y2="326.2" stroke="#222" stroke-width="0.9"/><line x1="458.62" y1="326.2" x2="466.23" y2="326.2" stroke="#222" stroke-width="0.9"/><rect x="454" y="334.5" width="16.85" height="46.35" fill="#a5002b" stroke="#1a1a1a" stroke-width="0.4"/><line x1="489.62" y1="356.15" x2="489.62" y2="350.4" stroke="#222" stroke-width="0.9"/><line x1="485.82" y1="350.4" x2="493.43" y2="350.4" stroke="#222" stroke-width="0.9"/><rect x="481.25" y="356.15" width="16.75" height="24.7" fill="#2d4b80" stroke="#1a1a1a" stroke-width="0.4"/><line x1="443.9" y1="307.7" x2="443.9" y2="381.45" stroke="#222" stroke-width="1.1"/><text x="438.3" y="312.38" font-size="6.6" text-anchor="end" stroke="#222" stroke-width="0.16" textLength="9" lengthAdjust="spacingAndGlyphs">1.0</text><text x="438.3" y="326.55" font-size="6.6" text-anchor="end" stroke="#222" stroke-width="0.16" textLength="9" lengthAdjust="spacingAndGlyphs">0.8</text><text x="438.3" y="340.72" font-size="6.6" text-anchor="end" stroke="#222" stroke-width="0.16" textLength="9" lengthAdjust="spacingAndGlyphs">0.6</text><text x="438.3" y="354.89" font-size="6.6" text-anchor="end" stroke="#222" stroke-width="0.16" textLength="9" lengthAdjust="spacingAndGlyphs">0.4</text><text x="438.3" y="369.06" font-size="6.6" text-anchor="end" stroke="#222" stroke-width="0.16" textLength="9" lengthAdjust="spacingAndGlyphs">0.2</text><text x="438.3" y="383.23" font-size="6.6" text-anchor="end" stroke="#222" stroke-width="0.16" textLength="9" lengthAdjust="spacingAndGlyphs">0.0</text><path d="M443.9,310h-3.4M443.9,324.17h-3.4M443.9,338.34h-3.4M443.9,352.51h-3.4M443.9,366.68h-3.4M443.9,380.85h-3.4" stroke="#222" stroke-width="1"/><line x1="441.5" y1="380.85" x2="508" y2="380.85" stroke="#222" stroke-width="1.1"/><line x1="462.4" y1="380.85" x2="462.4" y2="383.05" stroke="#222" stroke-width="0.9"/><line x1="489.6" y1="380.85" x2="489.6" y2="383.05" stroke="#222" stroke-width="0.9"/><path d="M462.75,318.3v6.4M462.75,321.5H490.5M490.5,318.3v6.4" stroke="#1a1a1a" stroke-width="0.95" fill="none"/><text x="476.62" y="322.1" font-size="6.8" fill="#111" text-anchor="middle" font-weight="bold">***</text><text x="425.2" y="343.6" font-size="8.3" text-anchor="middle" stroke="#222" stroke-width="0.16" textLength="62.5" lengthAdjust="spacingAndGlyphs" transform="rotate(-90 425.2 343.6)">Ratio F405/F488 nm</text><text x="466.5" y="389.5" font-size="7" text-anchor="end" stroke="#222" stroke-width="0.16" textLength="31" lengthAdjust="spacingAndGlyphs" transform="rotate(-45 466.5 389.5)">Total cells</text><text x="494" y="389.5" font-size="7" text-anchor="end" stroke="#222" stroke-width="0.16" textLength="25" lengthAdjust="spacingAndGlyphs" transform="rotate(-45 494 389.5)">FL-HSCs</text><text x="417.3" y="429.2" font-size="12" fill="#000" font-weight="bold">H</text><rect x="450" y="461" width="17" height="43.7" fill="#a5002b" stroke="#1a1a1a" stroke-width="0.4"/><line x1="486.3" y1="447.15" x2="486.3" y2="443.5" stroke="#222" stroke-width="0.9"/><line x1="482.5" y1="443.5" x2="490.1" y2="443.5" stroke="#222" stroke-width="0.9"/><rect x="478" y="447.15" width="16.6" height="57.55" fill="#2d4b80" stroke="#1a1a1a" stroke-width="0.4"/><line x1="444.3" y1="435.8" x2="444.3" y2="505.3" stroke="#222" stroke-width="1.1"/><text x="438.8" y="440.53" font-size="6.6" text-anchor="end" stroke="#222" stroke-width="0.16" textLength="9" lengthAdjust="spacingAndGlyphs">1.5</text><text x="438.8" y="462.68" font-size="6.6" text-anchor="end" stroke="#222" stroke-width="0.16" textLength="9" lengthAdjust="spacingAndGlyphs">1.0</text><text x="438.8" y="484.98" font-size="6.6" text-anchor="end" stroke="#222" stroke-width="0.16" textLength="9" lengthAdjust="spacingAndGlyphs">0.5</text><text x="438.8" y="507.08" font-size="6.6" text-anchor="end" stroke="#222" stroke-width="0.16" textLength="9" lengthAdjust="spacingAndGlyphs">0.0</text><path d="M444.3,438.15h-3.4M444.3,460.3h-3.4M444.3,482.6h-3.4M444.3,504.7h-3.4" stroke="#222" stroke-width="1"/><line x1="441.5" y1="504.7" x2="500.85" y2="504.7" stroke="#222" stroke-width="1.1"/><line x1="458.5" y1="504.7" x2="458.5" y2="506.9" stroke="#222" stroke-width="0.9"/><line x1="486.3" y1="504.7" x2="486.3" y2="506.9" stroke="#222" stroke-width="0.9"/><path d="M460,434.6v6.4M460,437.8H487.2M487.2,434.6v6.4" stroke="#1a1a1a" stroke-width="0.95" fill="none"/><text x="473.6" y="438.4" font-size="6.8" fill="#111" text-anchor="middle" font-weight="bold">**</text><text x="424.4" y="470" font-size="8.3" text-anchor="middle" stroke="#222" stroke-width="0.16" textLength="53" lengthAdjust="spacingAndGlyphs" transform="rotate(-90 424.4 470)">Relative ATP level</text><text x="462.3" y="513.8" font-size="7" text-anchor="end" stroke="#222" stroke-width="0.16" textLength="31" lengthAdjust="spacingAndGlyphs" transform="rotate(-45 462.3 513.8)">Total cells</text><text x="490.6" y="513.8" font-size="7" text-anchor="end" stroke="#222" stroke-width="0.16" textLength="25" lengthAdjust="spacingAndGlyphs" transform="rotate(-45 490.6 513.8)">FL-HSCs</text><text x="13.5" y="553.8" font-size="12" fill="#000" font-weight="bold">I</text><rect x="52" y="662" width="16.75" height="13.75" fill="#a5002b" stroke="#1a1a1a" stroke-width="0.4"/><line x1="87.12" y1="635" x2="87.12" y2="630.3" stroke="#222" stroke-width="0.9"/><line x1="82.78" y1="630.3" x2="91.47" y2="630.3" stroke="#222" stroke-width="0.9"/><rect x="78.75" y="635" width="16.75" height="40.75" fill="#2d4b80" stroke="#1a1a1a" stroke-width="0.4"/><line x1="47.5" y1="614.2" x2="47.5" y2="676.35" stroke="#222" stroke-width="1.1"/><text x="40.3" y="619.13" font-size="6.6" text-anchor="end" stroke="#222" stroke-width="0.16" textLength="3.2" lengthAdjust="spacingAndGlyphs">4</text><text x="40.3" y="633.88" font-size="6.6" text-anchor="end" stroke="#222" stroke-width="0.16" textLength="3.2" lengthAdjust="spacingAndGlyphs">3</text><text x="40.3" y="648.63" font-size="6.6" text-anchor="end" stroke="#222" stroke-width="0.16" textLength="3.2" lengthAdjust="spacingAndGlyphs">2</text><text x="40.3" y="663.38" font-size="6.6" text-anchor="end" stroke="#222" stroke-width="0.16" textLength="3.2" lengthAdjust="spacingAndGlyphs">1</text><text x="40.3" y="678.13" font-size="6.6" text-anchor="end" stroke="#222" stroke-width="0.16" textLength="3.2" lengthAdjust="spacingAndGlyphs">0</text><path d="M47.5,616.75h-3.4M47.5,631.5h-3.4M47.5,646.25h-3.4M47.5,661h-3.4M47.5,675.75h-3.4" stroke="#222" stroke-width="1"/><line x1="46.25" y1="675.75" x2="100.5" y2="675.75" stroke="#222" stroke-width="1.1"/><line x1="60.4" y1="675.75" x2="60.4" y2="677.95" stroke="#222" stroke-width="0.9"/><line x1="87.1" y1="675.75" x2="87.1" y2="677.95" stroke="#222" stroke-width="0.9"/><path d="M61.75,623.3v5M61.75,625.8H86.75M86.75,623.3v5" stroke="#1a1a1a" stroke-width="0.95" fill="none"/><text x="74.25" y="626.4" font-size="6.8" fill="#111" text-anchor="middle" font-weight="bold">**</text><text x="32.6" y="644.8" font-size="8.3" text-anchor="middle" stroke="#222" stroke-width="0.16" textLength="89.5" lengthAdjust="spacingAndGlyphs" transform="rotate(-90 32.6 644.8)">Relative mtDNA copy number</text><text x="64.3" y="684.2" font-size="7" text-anchor="end" stroke="#222" stroke-width="0.16" textLength="31" lengthAdjust="spacingAndGlyphs" transform="rotate(-45 64.3 684.2)">Total cells</text><text x="90.6" y="684.2" font-size="7" text-anchor="end" stroke="#222" stroke-width="0.16" textLength="25" lengthAdjust="spacingAndGlyphs" transform="rotate(-45 90.6 684.2)">FL-HSCs</text><text x="117.5" y="553.8" font-size="12" fill="#000" font-weight="bold">J</text><g clip-path="url(#c13)"><g filter="url(#jetL)"><ellipse cx="157" cy="639.5" rx="14" ry="7.5" fill="#fff" fill-opacity="0.13"/><ellipse cx="156" cy="640" rx="9" ry="4" fill="#fff" fill-opacity="0.07"/></g></g><g clip-path="url(#c14)"><g filter="url(#jetL)"><ellipse cx="188" cy="664.5" rx="7" ry="14" fill="#fff" fill-opacity="0.13"/><ellipse cx="188" cy="665" rx="4" ry="11" fill="#fff" fill-opacity="0.12"/><ellipse cx="188.3" cy="665.5" rx="2.5" ry="9" fill="#fff" fill-opacity="0.2"/><ellipse cx="188.5" cy="666" rx="1.6" ry="7" fill="#fff" fill-opacity="0.3"/><ellipse cx="188.5" cy="667" rx="1" ry="5" fill="#fff" fill-opacity="0.5"/></g></g><g clip-path="url(#c15)"><g filter="url(#jetL2)"><ellipse cx="188.3" cy="639" rx="3" ry="5" fill="#fff" fill-opacity="0.1"/></g></g><rect x="144.2" y="605.5" width="71.7" height="71" fill="none" stroke="#777" stroke-width="0.7"/><line x1="171.6" y1="605.5" x2="171.6" y2="676.5" stroke="#666" stroke-width="0.6"/><line x1="144.2" y1="648.25" x2="215.9" y2="648.25" stroke="#666" stroke-width="0.6"/><text x="148.8" y="622.8" font-size="6.6" stroke="#222" stroke-width="0.16" textLength="16.1" lengthAdjust="spacingAndGlyphs">20.10</text><text x="181.45" y="600" font-size="8.8" text-anchor="middle" stroke="#222" stroke-width="0.16" textLength="43.5" lengthAdjust="spacingAndGlyphs">SoNar-high</text><text transform="translate(138.7,615.8) scale(0.92,1)" font-size="6.8" fill="#1a1a1a" stroke="#1a1a1a" stroke-width="0.16" text-anchor="end">10<tspan dy="-2.86" font-size="4.76">5</tspan></text><text transform="translate(138.7,631.8) scale(0.92,1)" font-size="6.8" fill="#1a1a1a" stroke="#1a1a1a" stroke-width="0.16" text-anchor="end">10<tspan dy="-2.86" font-size="4.76">4</tspan></text><text transform="translate(138.7,647.5) scale(0.92,1)" font-size="6.8" fill="#1a1a1a" stroke="#1a1a1a" stroke-width="0.16" text-anchor="end">10<tspan dy="-2.86" font-size="4.76">3</tspan></text><text transform="translate(138.7,665) scale(0.92,1)" font-size="6.8" fill="#1a1a1a" stroke="#1a1a1a" stroke-width="0.16" text-anchor="end">10<tspan dy="-2.86" font-size="4.76">2</tspan></text><text x="139" y="671.8" font-size="6.8" fill="#1a1a1a" text-anchor="end" stroke="#1a1a1a" stroke-width="0.16">0</text><path d="M144.2,607h-0.9M144.2,609h-0.9M144.2,611h-0.9M144.2,613h-0.9M144.2,615h-0.9M144.2,617h-0.9M144.2,619h-0.9M144.2,621h-0.9M144.2,623h-0.9M144.2,625h-0.9M144.2,627h-0.9M144.2,629h-0.9M144.2,631h-0.9M144.2,633h-0.9M144.2,635h-0.9M144.2,637h-0.9M144.2,639h-0.9M144.2,641h-0.9M144.2,643h-0.9M144.2,645h-0.9M144.2,647h-0.9M144.2,649h-0.9M144.2,651h-0.9M144.2,653h-0.9M144.2,655h-0.9M144.2,657h-0.9M144.2,659h-0.9M144.2,661h-0.9M144.2,663h-0.9M144.2,665h-0.9M144.2,667h-0.9M144.2,669h-0.9M144.2,671h-0.9M144.2,673h-0.9M144.2,675h-0.9M146,676.5v0.9M148,676.5v0.9M150,676.5v0.9M152,676.5v0.9M154,676.5v0.9M156,676.5v0.9M158,676.5v0.9M160,676.5v0.9M162,676.5v0.9M164,676.5v0.9M166,676.5v0.9M168,676.5v0.9M170,676.5v0.9M172,676.5v0.9M174,676.5v0.9M176,676.5v0.9M178,676.5v0.9M180,676.5v0.9M182,676.5v0.9M184,676.5v0.9M186,676.5v0.9M188,676.5v0.9M190,676.5v0.9M192,676.5v0.9M194,676.5v0.9M196,676.5v0.9M198,676.5v0.9M200,676.5v0.9M202,676.5v0.9M204,676.5v0.9M206,676.5v0.9M208,676.5v0.9M210,676.5v0.9M212,676.5v0.9M214,676.5v0.9" stroke="#555" stroke-width="0.5"/><text transform="translate(157.2,686.5) scale(0.92,1)" font-size="6.8" fill="#1a1a1a" stroke="#1a1a1a" stroke-width="0.16" text-anchor="middle">0 10<tspan dy="-2.86" font-size="4.76">2</tspan></text><text transform="translate(175.5,686.5) scale(0.92,1)" font-size="6.8" fill="#1a1a1a" stroke="#1a1a1a" stroke-width="0.16" text-anchor="middle">10<tspan dy="-2.86" font-size="4.76">3</tspan></text><text transform="translate(192.5,686.5) scale(0.92,1)" font-size="6.8" fill="#1a1a1a" stroke="#1a1a1a" stroke-width="0.16" text-anchor="middle">10<tspan dy="-2.86" font-size="4.76">4</tspan></text><text transform="translate(209.5,686.5) scale(0.92,1)" font-size="6.8" fill="#1a1a1a" stroke="#1a1a1a" stroke-width="0.16" text-anchor="middle">10<tspan dy="-2.86" font-size="4.76">5</tspan></text><g clip-path="url(#c16)"><g filter="url(#jetL)"><ellipse cx="248.5" cy="638" rx="13" ry="9.5" fill="#fff" fill-opacity="0.12"/><ellipse cx="248" cy="637.5" rx="8.5" ry="6" fill="#fff" fill-opacity="0.12"/><ellipse cx="247.5" cy="637.5" rx="5.5" ry="3.8" fill="#fff" fill-opacity="0.2"/><ellipse cx="247.5" cy="637.5" rx="3.2" ry="2.2" fill="#fff" fill-opacity="0.3"/><ellipse cx="247.5" cy="637.5" rx="1.8" ry="1.3" fill="#fff" fill-opacity="0.5"/></g></g><g clip-path="url(#c17)"><g filter="url(#jetL)"><ellipse cx="277" cy="665" rx="8" ry="13" fill="#fff" fill-opacity="0.11"/><ellipse cx="277" cy="666" rx="4" ry="9" fill="#fff" fill-opacity="0.08"/><ellipse cx="277" cy="667" rx="2" ry="6" fill="#fff" fill-opacity="0.12"/></g></g><g clip-path="url(#c18)"><g filter="url(#jetL2)"><ellipse cx="277" cy="637" rx="3" ry="6" fill="#fff" fill-opacity="0.08"/></g></g><rect x="238" y="605.5" width="71.25" height="71" fill="none" stroke="#777" stroke-width="0.7"/><line x1="264.5" y1="605.5" x2="264.5" y2="676.5" stroke="#666" stroke-width="0.6"/><line x1="238" y1="648.25" x2="309.25" y2="648.25" stroke="#666" stroke-width="0.6"/><text x="242.6" y="622.8" font-size="6.6" stroke="#222" stroke-width="0.16" textLength="16.1" lengthAdjust="spacingAndGlyphs">79.10</text><text x="273.3" y="600" font-size="8.8" text-anchor="middle" stroke="#222" stroke-width="0.16" textLength="38.5" lengthAdjust="spacingAndGlyphs">SoNar-low</text><text transform="translate(232.5,615.8) scale(0.92,1)" font-size="6.8" fill="#1a1a1a" stroke="#1a1a1a" stroke-width="0.16" text-anchor="end">10<tspan dy="-2.86" font-size="4.76">5</tspan></text><text transform="translate(232.5,631.8) scale(0.92,1)" font-size="6.8" fill="#1a1a1a" stroke="#1a1a1a" stroke-width="0.16" text-anchor="end">10<tspan dy="-2.86" font-size="4.76">4</tspan></text><text transform="translate(232.5,647.5) scale(0.92,1)" font-size="6.8" fill="#1a1a1a" stroke="#1a1a1a" stroke-width="0.16" text-anchor="end">10<tspan dy="-2.86" font-size="4.76">3</tspan></text><text transform="translate(232.5,665) scale(0.92,1)" font-size="6.8" fill="#1a1a1a" stroke="#1a1a1a" stroke-width="0.16" text-anchor="end">10<tspan dy="-2.86" font-size="4.76">2</tspan></text><text x="232.8" y="671.8" font-size="6.8" fill="#1a1a1a" text-anchor="end" stroke="#1a1a1a" stroke-width="0.16">0</text><path d="M238,607h-0.9M238,609h-0.9M238,611h-0.9M238,613h-0.9M238,615h-0.9M238,617h-0.9M238,619h-0.9M238,621h-0.9M238,623h-0.9M238,625h-0.9M238,627h-0.9M238,629h-0.9M238,631h-0.9M238,633h-0.9M238,635h-0.9M238,637h-0.9M238,639h-0.9M238,641h-0.9M238,643h-0.9M238,645h-0.9M238,647h-0.9M238,649h-0.9M238,651h-0.9M238,653h-0.9M238,655h-0.9M238,657h-0.9M238,659h-0.9M238,661h-0.9M238,663h-0.9M238,665h-0.9M238,667h-0.9M238,669h-0.9M238,671h-0.9M238,673h-0.9M238,675h-0.9M240,676.5v0.9M242,676.5v0.9M244,676.5v0.9M246,676.5v0.9M248,676.5v0.9M250,676.5v0.9M252,676.5v0.9M254,676.5v0.9M256,676.5v0.9M258,676.5v0.9M260,676.5v0.9M262,676.5v0.9M264,676.5v0.9M266,676.5v0.9M268,676.5v0.9M270,676.5v0.9M272,676.5v0.9M274,676.5v0.9M276,676.5v0.9M278,676.5v0.9M280,676.5v0.9M282,676.5v0.9M284,676.5v0.9M286,676.5v0.9M288,676.5v0.9M290,676.5v0.9M292,676.5v0.9M294,676.5v0.9M296,676.5v0.9M298,676.5v0.9M300,676.5v0.9M302,676.5v0.9M304,676.5v0.9M306,676.5v0.9M308,676.5v0.9" stroke="#555" stroke-width="0.5"/><text transform="translate(251,686.5) scale(0.92,1)" font-size="6.8" fill="#1a1a1a" stroke="#1a1a1a" stroke-width="0.16" text-anchor="middle">010<tspan dy="-2.86" font-size="4.76">2</tspan></text><text transform="translate(269.3,686.5) scale(0.92,1)" font-size="6.8" fill="#1a1a1a" stroke="#1a1a1a" stroke-width="0.16" text-anchor="middle">10<tspan dy="-2.86" font-size="4.76">3</tspan></text><text transform="translate(286.3,686.5) scale(0.92,1)" font-size="6.8" fill="#1a1a1a" stroke="#1a1a1a" stroke-width="0.16" text-anchor="middle">10<tspan dy="-2.86" font-size="4.76">4</tspan></text><text transform="translate(303.3,686.5) scale(0.92,1)" font-size="6.8" fill="#1a1a1a" stroke="#1a1a1a" stroke-width="0.16" text-anchor="middle">10<tspan dy="-2.86" font-size="4.76">5</tspan></text><path d="M120.5,651.5 L120.5,697 L179.5,697" fill="none" stroke="#000" stroke-width="2.3"/><polygon points="120.5,640.5 127.1,655.5 120.5,652.5 113.9,655.5" fill="#000"/><polygon points="190.5,697 174.5,690.4 177.7,697 174.5,703.6" fill="#000"/><text x="124.6" y="624.5" font-size="9.6" text-anchor="middle" stroke="#222" stroke-width="0.16" textLength="21.5" lengthAdjust="spacingAndGlyphs" transform="rotate(-90 124.6 624.5)">CD45.2</text><text x="193.6" y="700.2" font-size="9.6" stroke="#222" stroke-width="0.16" textLength="22.8" lengthAdjust="spacingAndGlyphs">CD45.1</text><text x="325.5" y="553" font-size="12" fill="#000" font-weight="bold">K</text><text x="385" y="564.3" font-size="8.6" fill="#1a1a1a" stroke="#1a1a1a" stroke-width="0.16" textLength="86" lengthAdjust="spacingAndGlyphs">1<tspan dy="-3" font-size="5.8">st</tspan><tspan dy="3"> transplantation (FL)</tspan></text><rect x="359.3" y="568.8" width="8.2" height="8" fill="#a5002b"/><rect x="359.3" y="579.5" width="8.2" height="7.6" fill="#2d4b80"/><text x="370" y="574.8" font-size="6.8" stroke="#222" stroke-width="0.16" textLength="33" lengthAdjust="spacingAndGlyphs">SoNar-high</text><text x="370" y="585.3" font-size="6.8" stroke="#222" stroke-width="0.16" textLength="30" lengthAdjust="spacingAndGlyphs">SoNar-low</text><line x1="369.38" y1="662" x2="369.38" y2="657.5" stroke="#222" stroke-width="0.9"/><line x1="365.88" y1="657.5" x2="372.88" y2="657.5" stroke="#222" stroke-width="0.9"/><rect x="363.25" y="662" width="12.25" height="13.5" fill="#a5002b" stroke="#1a1a1a" stroke-width="0.4"/><line x1="387.75" y1="604.5" x2="387.75" y2="602.5" stroke="#222" stroke-width="0.9"/><line x1="384.25" y1="602.5" x2="391.25" y2="602.5" stroke="#222" stroke-width="0.9"/><rect x="381.75" y="604.5" width="12" height="71" fill="#2d4b80" stroke="#1a1a1a" stroke-width="0.4"/><line x1="418.25" y1="664.5" x2="418.25" y2="661.5" stroke="#222" stroke-width="0.9"/><line x1="414.75" y1="661.5" x2="421.75" y2="661.5" stroke="#222" stroke-width="0.9"/><rect x="412.25" y="664.5" width="12" height="11" fill="#a5002b" stroke="#1a1a1a" stroke-width="0.4"/><line x1="436.75" y1="593.25" x2="436.75" y2="592" stroke="#222" stroke-width="0.9"/><line x1="433.25" y1="592" x2="440.25" y2="592" stroke="#222" stroke-width="0.9"/><rect x="430.75" y="593.25" width="12" height="82.25" fill="#2d4b80" stroke="#1a1a1a" stroke-width="0.4"/><line x1="467.25" y1="650" x2="467.25" y2="645.5" stroke="#222" stroke-width="0.9"/><line x1="463.75" y1="645.5" x2="470.75" y2="645.5" stroke="#222" stroke-width="0.9"/><rect x="461.25" y="650" width="12" height="25.5" fill="#a5002b" stroke="#1a1a1a" stroke-width="0.4"/><line x1="485.5" y1="593.25" x2="485.5" y2="592.3" stroke="#222" stroke-width="0.9"/><line x1="482" y1="592.3" x2="489" y2="592.3" stroke="#222" stroke-width="0.9"/><rect x="479.5" y="593.25" width="12" height="82.25" fill="#2d4b80" stroke="#1a1a1a" stroke-width="0.4"/><line x1="355" y1="573.7" x2="355" y2="676.1" stroke="#222" stroke-width="1.1"/><text x="350.3" y="577.88" font-size="6.6" text-anchor="end" stroke="#222" stroke-width="0.16" textLength="10.65" lengthAdjust="spacingAndGlyphs">100</text><text x="350.3" y="597.88" font-size="6.6" text-anchor="end" stroke="#222" stroke-width="0.16" textLength="7.1" lengthAdjust="spacingAndGlyphs">80</text><text x="350.3" y="617.88" font-size="6.6" text-anchor="end" stroke="#222" stroke-width="0.16" textLength="7.1" lengthAdjust="spacingAndGlyphs">60</text><text x="350.3" y="637.88" font-size="6.6" text-anchor="end" stroke="#222" stroke-width="0.16" textLength="7.1" lengthAdjust="spacingAndGlyphs">40</text><text x="350.3" y="657.88" font-size="6.6" text-anchor="end" stroke="#222" stroke-width="0.16" textLength="7.1" lengthAdjust="spacingAndGlyphs">20</text><text x="350.3" y="677.88" font-size="6.6" text-anchor="end" stroke="#222" stroke-width="0.16" textLength="3.55" lengthAdjust="spacingAndGlyphs">0</text><path d="M355,575.5h-3.4M355,595.5h-3.4M355,615.5h-3.4M355,635.5h-3.4M355,655.5h-3.4M355,675.5h-3.4" stroke="#222" stroke-width="1"/><line x1="351.75" y1="675.5" x2="501.25" y2="675.5" stroke="#222" stroke-width="1.1"/><line x1="378.25" y1="675.5" x2="378.25" y2="677.7" stroke="#222" stroke-width="0.9"/><line x1="427.5" y1="675.5" x2="427.5" y2="677.7" stroke="#222" stroke-width="0.9"/><line x1="476.25" y1="675.5" x2="476.25" y2="677.7" stroke="#222" stroke-width="0.9"/><path d="M370.5,594.8v6.4M370.5,598H388.25M388.25,594.8v6.4" stroke="#1a1a1a" stroke-width="0.95" fill="none"/><text x="379.38" y="598.6" font-size="6.8" fill="#111" text-anchor="middle" font-weight="bold">***</text><path d="M418.75,583.8v6.4M418.75,587H436.25M436.25,583.8v6.4" stroke="#1a1a1a" stroke-width="0.95" fill="none"/><text x="427.5" y="587.6" font-size="6.8" fill="#111" text-anchor="middle" font-weight="bold">***</text><path d="M467.5,583.8v6.4M467.5,587H485M485,583.8v6.4" stroke="#1a1a1a" stroke-width="0.95" fill="none"/><text x="476.25" y="587.6" font-size="6.8" fill="#111" text-anchor="middle" font-weight="bold">***</text><text x="378.25" y="688.3" font-size="6.8" text-anchor="middle" stroke="#222" stroke-width="0.16" textLength="23.5" lengthAdjust="spacingAndGlyphs">4 weeks</text><text x="427.5" y="688.3" font-size="6.8" text-anchor="middle" stroke="#222" stroke-width="0.16" textLength="23.5" lengthAdjust="spacingAndGlyphs">8 weeks</text><text x="476.25" y="688.3" font-size="6.8" text-anchor="middle" stroke="#222" stroke-width="0.16" textLength="26.5" lengthAdjust="spacingAndGlyphs">16 weeks</text><text x="333.4" y="624.3" font-size="8.3" text-anchor="middle" stroke="#222" stroke-width="0.16" textLength="46.5" lengthAdjust="spacingAndGlyphs" transform="rotate(-90 333.4 624.3)">% repopulation</text><rect x="0" y="0" width="520" height="711" fill="none" stroke="#000" stroke-width="2.6"/></svg></body></html>
